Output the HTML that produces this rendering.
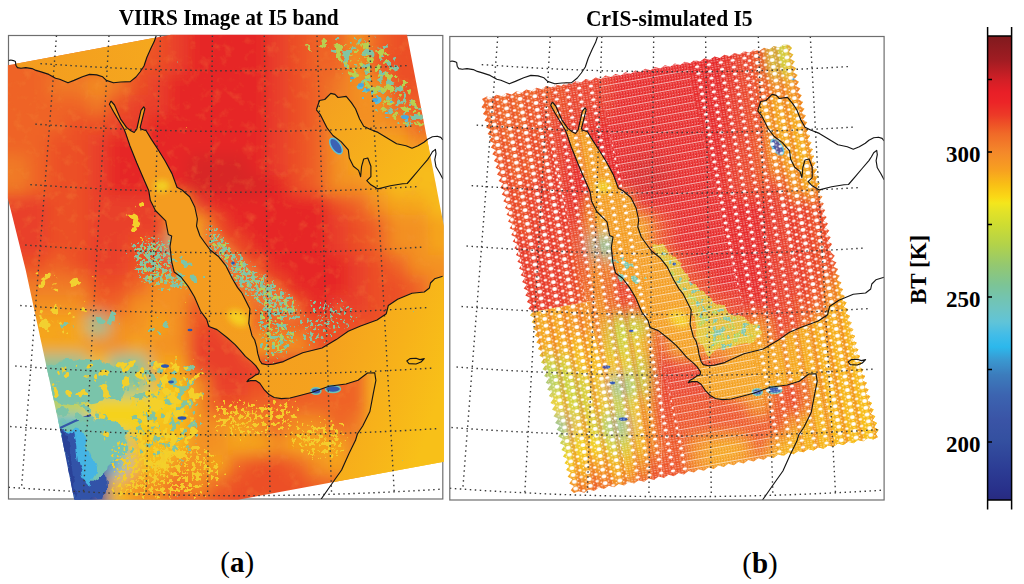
<!DOCTYPE html><html><head><meta charset="utf-8"><style>html,body{margin:0;padding:0;background:#fff;width:1024px;height:584px;overflow:hidden}svg{display:block}text{font-family:"Liberation Serif",serif}</style></head><body>
<svg width="1024" height="584" viewBox="0 0 1024 584">
<defs>
<clipPath id="cimg"><polygon points="7.9,65.2 171.0,34.8 407.0,34.8 443.8,225.7 443.8,461.7 238.0,499.8 74.2,499.8 62.3,440.0 25.7,270.0 7.9,198.5"/></clipPath>
<clipPath id="csw"><polygon points="40.7,98.0 45.4,95.6 50.7,97.0 55.3,93.8 60.6,95.3 65.2,92.1 70.5,93.6 75.1,90.3 80.5,91.8 85.0,88.6 90.4,90.1 94.9,86.8 100.3,88.3 104.8,85.1 110.2,86.6 114.7,83.4 120.1,84.9 124.6,81.6 130.0,83.1 134.5,79.9 139.9,81.4 144.4,78.1 149.8,79.6 154.3,76.4 159.7,77.9 164.2,74.6 169.6,76.1 174.1,72.9 179.5,74.4 184.0,71.2 189.4,72.7 193.9,69.4 199.3,70.9 203.8,67.7 209.2,69.2 213.7,65.9 219.1,67.4 223.6,64.2 229.0,65.7 233.5,62.5 238.9,63.9 243.4,60.7 248.8,62.2 253.3,59.0 258.7,60.5 263.2,57.2 268.6,58.7 273.1,55.5 278.5,57.0 283.1,53.7 288.4,55.2 293.0,52.0 298.3,53.5 302.9,50.3 308.2,51.8 312.8,48.5 318.1,50.0 322.7,46.8 328.0,48.3 332.6,45.0 337.9,46.5 342.5,43.3 347.7,44.0 350.8,46.9 347.6,51.1 352.2,53.6 349.0,57.8 353.6,60.4 350.4,64.6 355.0,67.2 351.8,71.3 356.4,73.9 353.1,78.1 357.7,80.7 354.5,84.9 359.1,87.4 355.9,91.6 360.5,94.2 357.3,98.4 361.9,101.0 358.7,105.1 363.3,107.7 360.0,111.9 364.7,114.5 361.4,118.7 366.0,121.2 362.8,125.4 367.4,128.0 364.2,132.2 368.8,134.8 365.6,138.9 370.2,141.5 367.0,145.7 371.6,148.3 368.3,152.5 372.9,155.0 369.7,159.2 374.3,161.8 371.1,166.0 375.7,168.6 372.5,172.7 377.1,175.3 373.9,179.5 378.5,182.1 375.2,186.3 379.8,188.8 376.6,193.0 381.2,195.6 378.0,199.8 382.6,202.4 379.4,206.5 384.0,209.1 380.8,213.3 385.4,215.9 382.1,220.1 386.8,222.6 383.5,226.8 388.1,229.4 384.9,233.6 389.5,236.2 386.3,240.3 390.9,242.9 387.7,247.1 390.2,252.0 393.5,254.7 390.4,259.1 395.2,261.4 392.1,265.7 396.9,268.1 393.8,272.4 398.5,274.8 395.5,279.1 400.2,281.5 397.2,285.8 401.9,288.2 398.9,292.5 403.6,294.9 400.6,299.2 405.3,301.6 402.3,305.9 407.0,308.2 404.0,312.6 408.7,314.9 405.7,319.3 410.4,321.6 407.3,326.0 412.1,328.3 409.0,332.6 413.8,335.0 410.7,339.3 415.4,341.7 412.4,346.0 417.1,348.4 414.1,352.7 418.8,355.1 415.8,359.4 420.5,361.8 417.5,366.1 422.2,368.5 419.2,372.8 423.9,375.1 420.9,379.5 425.6,381.8 422.6,386.2 427.3,388.5 424.2,392.9 429.0,395.2 425.9,399.5 430.7,401.9 427.6,406.2 432.4,408.6 429.3,412.9 434.0,415.3 431.0,419.6 435.7,422.0 432.7,426.3 437.4,428.7 434.4,433.0 436.7,436.0 432.0,438.5 426.6,437.0 422.0,440.3 416.6,438.9 412.1,442.2 406.7,440.7 402.1,444.0 396.7,442.6 392.1,445.8 386.7,444.4 382.2,447.7 376.8,446.2 372.2,449.5 366.8,448.1 362.2,451.3 356.8,449.9 352.3,453.2 346.9,451.7 342.3,455.0 336.9,453.6 332.3,456.9 326.9,455.4 322.4,458.7 316.9,457.2 312.4,460.5 307.0,459.1 302.4,462.4 297.0,460.9 292.5,464.2 287.0,462.8 282.5,466.0 277.1,464.6 272.5,467.9 267.1,466.4 262.6,469.7 257.1,468.3 252.6,471.5 247.2,470.1 242.6,473.4 237.2,471.9 232.7,475.2 227.2,473.8 222.7,477.0 217.3,475.6 212.7,478.9 207.3,477.4 202.8,480.7 197.3,479.3 192.8,482.6 187.4,481.1 182.8,484.4 177.4,483.0 172.9,486.2 167.4,484.8 162.9,488.1 157.5,486.6 152.9,489.9 147.5,488.5 143.0,491.7 137.5,490.3 132.7,492.0 129.5,489.2 132.6,484.9 127.9,482.5 131.0,478.2 126.3,475.8 129.5,471.5 124.8,469.1 127.9,464.8 123.2,462.3 126.3,458.1 121.6,455.6 124.7,451.3 120.1,448.9 123.2,444.6 118.5,442.2 121.6,437.9 116.9,435.5 120.0,431.2 115.4,428.7 118.5,424.5 113.8,422.0 116.9,417.7 112.2,415.3 115.3,411.0 110.7,408.6 113.8,404.3 109.1,401.9 112.2,397.6 107.5,395.1 110.6,390.9 105.9,388.4 109.1,384.2 104.4,381.7 107.5,377.4 102.8,375.0 105.9,370.7 101.2,368.3 104.4,364.0 99.7,361.5 102.8,357.3 98.1,354.8 101.2,350.6 96.5,348.1 99.6,343.8 95.0,341.4 98.1,337.1 93.4,334.7 96.5,330.4 91.8,327.9 94.9,323.7 90.3,321.2 93.4,317.0 88.7,314.5 91.8,310.2 87.1,307.8 90.2,303.5 85.6,301.1 88.7,296.8 84.0,294.4 87.1,290.1 82.4,287.6 85.5,283.4 80.8,280.9 84.0,276.6 79.3,274.2 82.4,269.9 77.7,267.5 80.8,263.2 76.1,260.8 79.2,256.5 74.6,254.0 77.7,249.8 73.0,247.3 76.1,243.0 71.4,240.6 74.5,236.3 69.9,233.9 73.0,229.6 68.3,227.2 71.4,222.9 66.7,220.4 69.8,216.2 65.2,213.7 68.3,209.5 63.6,207.0 66.7,202.7 62.0,200.3 65.1,196.0 60.4,193.6 63.6,189.3 58.9,186.8 62.0,182.6 57.3,180.1 60.4,175.9 55.7,173.4 58.9,169.1 54.2,166.7 57.3,162.4 52.6,160.0 55.7,155.7 51.0,153.2 54.1,149.0 49.5,146.5 52.6,142.3 47.9,139.8 51.0,135.5 46.3,133.1 49.4,128.8 44.8,126.4 47.9,122.1 43.2,119.6 46.3,115.4 41.6,112.9 44.7,108.7 40.1,106.2 43.2,101.9"/></clipPath>
<clipPath id="cfr"><rect x="8.5" y="35.5" width="434.3" height="463.5"/></clipPath>
<filter id="bl" x="-20%" y="-20%" width="140%" height="140%"><feGaussianBlur stdDeviation="8"/></filter>
<filter id="rough" filterUnits="userSpaceOnUse" x="0" y="0" width="1024" height="584"><feTurbulence type="fractalNoise" baseFrequency="0.07" numOctaves="3" seed="5" result="t"/><feDisplacementMap in="SourceGraphic" in2="t" scale="12" xChannelSelector="R" yChannelSelector="G" result="d"/><feGaussianBlur in="d" stdDeviation="0.7"/></filter>
<filter id="bl4" x="-50%" y="-50%" width="200%" height="200%"><feGaussianBlur stdDeviation="3"/></filter>
<filter id="bl3" x="-5%" y="-5%" width="110%" height="110%"><feGaussianBlur stdDeviation="0.6"/></filter>
<filter id="bl2" x="-5%" y="-5%" width="110%" height="110%"><feGaussianBlur stdDeviation="0.7"/></filter>
<filter id="nT" filterUnits="userSpaceOnUse" x="0" y="0" width="1024" height="584" color-interpolation-filters="sRGB"><feTurbulence type="fractalNoise" baseFrequency="0.12" numOctaves="3" seed="3" result="n"/><feColorMatrix in="n" type="matrix" values="0 0 0 0 0  0 0 0 0 0  0 0 0 0 0  1 0 0 0 0" result="na"/><feGaussianBlur in="SourceAlpha" stdDeviation="5" result="m"/><feComposite in="na" in2="m" operator="arithmetic" k1="0" k2="5" k3="2.0" k4="-4.500" result="t"/><feComponentTransfer in="t" result="t2"><feFuncA type="linear" slope="4" intercept="0"/></feComponentTransfer><feFlood flood-color="#7cc4a8"/><feComposite in2="t2" operator="in"/></filter><filter id="nTs" filterUnits="userSpaceOnUse" x="0" y="0" width="1024" height="584" color-interpolation-filters="sRGB"><feTurbulence type="fractalNoise" baseFrequency="0.14" numOctaves="3" seed="5" result="n"/><feColorMatrix in="n" type="matrix" values="0 0 0 0 0  0 0 0 0 0  0 0 0 0 0  1 0 0 0 0" result="na"/><feGaussianBlur in="SourceAlpha" stdDeviation="5" result="m"/><feComposite in="na" in2="m" operator="arithmetic" k1="0" k2="5" k3="2.0" k4="-4.788" result="t"/><feComponentTransfer in="t" result="t2"><feFuncA type="linear" slope="4" intercept="0"/></feComponentTransfer><feFlood flood-color="#80c4a4"/><feComposite in2="t2" operator="in"/></filter><filter id="nG" filterUnits="userSpaceOnUse" x="0" y="0" width="1024" height="584" color-interpolation-filters="sRGB"><feTurbulence type="fractalNoise" baseFrequency="0.14" numOctaves="3" seed="7" result="n"/><feColorMatrix in="n" type="matrix" values="0 0 0 0 0  0 0 0 0 0  0 0 0 0 0  1 0 0 0 0" result="na"/><feGaussianBlur in="SourceAlpha" stdDeviation="5" result="m"/><feComposite in="na" in2="m" operator="arithmetic" k1="0" k2="5" k3="2.0" k4="-4.788" result="t"/><feComponentTransfer in="t" result="t2"><feFuncA type="linear" slope="4" intercept="0"/></feComponentTransfer><feFlood flood-color="#b8d050"/><feComposite in2="t2" operator="in"/></filter><filter id="nY" filterUnits="userSpaceOnUse" x="0" y="0" width="1024" height="584" color-interpolation-filters="sRGB"><feTurbulence type="fractalNoise" baseFrequency="0.1" numOctaves="3" seed="9" result="n"/><feColorMatrix in="n" type="matrix" values="0 0 0 0 0  0 0 0 0 0  0 0 0 0 0  1 0 0 0 0" result="na"/><feGaussianBlur in="SourceAlpha" stdDeviation="6" result="m"/><feComposite in="na" in2="m" operator="arithmetic" k1="0" k2="5" k3="2.0" k4="-4.569" result="t"/><feComponentTransfer in="t" result="t2"><feFuncA type="linear" slope="4" intercept="0"/></feComponentTransfer><feFlood flood-color="#f4d02a"/><feComposite in2="t2" operator="in"/></filter><filter id="nC" filterUnits="userSpaceOnUse" x="0" y="0" width="1024" height="584" color-interpolation-filters="sRGB"><feTurbulence type="fractalNoise" baseFrequency="0.12" numOctaves="3" seed="11" result="n"/><feColorMatrix in="n" type="matrix" values="0 0 0 0 0  0 0 0 0 0  0 0 0 0 0  1 0 0 0 0" result="na"/><feGaussianBlur in="SourceAlpha" stdDeviation="5" result="m"/><feComposite in="na" in2="m" operator="arithmetic" k1="0" k2="5" k3="2.0" k4="-4.712" result="t"/><feComponentTransfer in="t" result="t2"><feFuncA type="linear" slope="4" intercept="0"/></feComponentTransfer><feFlood flood-color="#5cbcd4"/><feComposite in2="t2" operator="in"/></filter><filter id="nTf" filterUnits="userSpaceOnUse" x="0" y="0" width="1024" height="584" color-interpolation-filters="sRGB"><feTurbulence type="fractalNoise" baseFrequency="0.25" numOctaves="2" seed="13" result="n"/><feColorMatrix in="n" type="matrix" values="0 0 0 0 0  0 0 0 0 0  0 0 0 0 0  1 0 0 0 0" result="na"/><feGaussianBlur in="SourceAlpha" stdDeviation="5" result="m"/><feComposite in="na" in2="m" operator="arithmetic" k1="0" k2="5" k3="2.0" k4="-4.569" result="t"/><feComponentTransfer in="t" result="t2"><feFuncA type="linear" slope="4" intercept="0"/></feComponentTransfer><feFlood flood-color="#7cc4a8"/><feComposite in2="t2" operator="in"/></filter><filter id="nGf" filterUnits="userSpaceOnUse" x="0" y="0" width="1024" height="584" color-interpolation-filters="sRGB"><feTurbulence type="fractalNoise" baseFrequency="0.25" numOctaves="2" seed="15" result="n"/><feColorMatrix in="n" type="matrix" values="0 0 0 0 0  0 0 0 0 0  0 0 0 0 0  1 0 0 0 0" result="na"/><feGaussianBlur in="SourceAlpha" stdDeviation="5" result="m"/><feComposite in="na" in2="m" operator="arithmetic" k1="0" k2="5" k3="2.0" k4="-4.871" result="t"/><feComponentTransfer in="t" result="t2"><feFuncA type="linear" slope="4" intercept="0"/></feComponentTransfer><feFlood flood-color="#b4d058"/><feComposite in2="t2" operator="in"/></filter><filter id="nYf" filterUnits="userSpaceOnUse" x="0" y="0" width="1024" height="584" color-interpolation-filters="sRGB"><feTurbulence type="fractalNoise" baseFrequency="0.26" numOctaves="3" seed="17" result="n"/><feColorMatrix in="n" type="matrix" values="0 0 0 0 0  0 0 0 0 0  0 0 0 0 0  1 0 0 0 0" result="na"/><feGaussianBlur in="SourceAlpha" stdDeviation="6" result="m"/><feComposite in="na" in2="m" operator="arithmetic" k1="0" k2="5" k3="2.0" k4="-4.611" result="t"/><feComponentTransfer in="t" result="t2"><feFuncA type="linear" slope="4" intercept="0"/></feComponentTransfer><feFlood flood-color="#f4cc2c"/><feComposite in2="t2" operator="in"/></filter><filter id="nTf3" filterUnits="userSpaceOnUse" x="0" y="0" width="1024" height="584" color-interpolation-filters="sRGB"><feTurbulence type="fractalNoise" baseFrequency="0.3" numOctaves="2" seed="29" result="n"/><feColorMatrix in="n" type="matrix" values="0 0 0 0 0  0 0 0 0 0  0 0 0 0 0  1 0 0 0 0" result="na"/><feGaussianBlur in="SourceAlpha" stdDeviation="5" result="m"/><feComposite in="na" in2="m" operator="arithmetic" k1="0" k2="5" k3="2.0" k4="-4.821" result="t"/><feComponentTransfer in="t" result="t2"><feFuncA type="linear" slope="4" intercept="0"/></feComponentTransfer><feFlood flood-color="#82c4a4"/><feComposite in2="t2" operator="in"/></filter><filter id="nYs" filterUnits="userSpaceOnUse" x="0" y="0" width="1024" height="584" color-interpolation-filters="sRGB"><feTurbulence type="fractalNoise" baseFrequency="0.1" numOctaves="3" seed="19" result="n"/><feColorMatrix in="n" type="matrix" values="0 0 0 0 0  0 0 0 0 0  0 0 0 0 0  1 0 0 0 0" result="na"/><feGaussianBlur in="SourceAlpha" stdDeviation="4" result="m"/><feComposite in="na" in2="m" operator="arithmetic" k1="0" k2="5" k3="2.0" k4="-4.925" result="t"/><feComponentTransfer in="t" result="t2"><feFuncA type="linear" slope="4" intercept="0"/></feComponentTransfer><feFlood flood-color="#f2d030"/><feComposite in2="t2" operator="in"/></filter><filter id="nTf2" filterUnits="userSpaceOnUse" x="0" y="0" width="1024" height="584" color-interpolation-filters="sRGB"><feTurbulence type="fractalNoise" baseFrequency="0.35" numOctaves="2" seed="23" result="n"/><feColorMatrix in="n" type="matrix" values="0 0 0 0 0  0 0 0 0 0  0 0 0 0 0  1 0 0 0 0" result="na"/><feGaussianBlur in="SourceAlpha" stdDeviation="5" result="m"/><feComposite in="na" in2="m" operator="arithmetic" k1="0" k2="5" k3="2.0" k4="-4.788" result="t"/><feComponentTransfer in="t" result="t2"><feFuncA type="linear" slope="4" intercept="0"/></feComponentTransfer><feFlood flood-color="#8cc4a0"/><feComposite in2="t2" operator="in"/></filter>
<filter id="mot" filterUnits="userSpaceOnUse" x="0" y="0" width="1024" height="584" color-interpolation-filters="sRGB"><feTurbulence type="fractalNoise" baseFrequency="0.09" numOctaves="4" seed="21" result="n"/><feColorMatrix in="n" type="matrix" values="0 0 0 0 0.97  0 0 0 0 0.62  0 0 0 0 0.25  2.2 0 0 0 -1.15"/><feComposite in2="SourceAlpha" operator="in"/></filter>
<g id="colors"><g filter="url(#bl)"><rect x="-12" y="15" width="40" height="40" fill="#ef6428"/><rect x="28" y="15" width="20" height="40" fill="#ef6428"/><rect x="48" y="15" width="20" height="40" fill="#ef6428"/><rect x="68" y="15" width="20" height="40" fill="#ef6428"/><rect x="88" y="15" width="20" height="40" fill="#ef6428"/><rect x="108" y="15" width="20" height="40" fill="#ef6428"/><rect x="128" y="15" width="20" height="40" fill="#ef6428"/><rect x="148" y="15" width="20" height="40" fill="#ec5028"/><rect x="168" y="15" width="20" height="40" fill="#e9402a"/><rect x="188" y="15" width="20" height="40" fill="#e62525"/><rect x="208" y="15" width="20" height="40" fill="#e62525"/><rect x="228" y="15" width="20" height="40" fill="#e62525"/><rect x="248" y="15" width="20" height="40" fill="#e62525"/><rect x="268" y="15" width="20" height="40" fill="#e9402a"/><rect x="288" y="15" width="20" height="40" fill="#ec5028"/><rect x="308" y="15" width="20" height="40" fill="#ef6428"/><rect x="328" y="15" width="20" height="40" fill="#ef6428"/><rect x="348" y="15" width="20" height="40" fill="#f39024"/><rect x="368" y="15" width="20" height="40" fill="#ef6428"/><rect x="388" y="15" width="20" height="40" fill="#ec5028"/><rect x="408" y="15" width="20" height="40" fill="#ec5028"/><rect x="428" y="15" width="40" height="40" fill="#ec5028"/><rect x="-12" y="55" width="40" height="20" fill="#ef6428"/><rect x="28" y="55" width="20" height="20" fill="#ef6428"/><rect x="48" y="55" width="20" height="20" fill="#ef6428"/><rect x="68" y="55" width="20" height="20" fill="#ef6428"/><rect x="88" y="55" width="20" height="20" fill="#ef6428"/><rect x="108" y="55" width="20" height="20" fill="#ef6428"/><rect x="128" y="55" width="20" height="20" fill="#ec5028"/><rect x="148" y="55" width="20" height="20" fill="#ec5028"/><rect x="168" y="55" width="20" height="20" fill="#e9402a"/><rect x="188" y="55" width="20" height="20" fill="#e62525"/><rect x="208" y="55" width="20" height="20" fill="#e62525"/><rect x="228" y="55" width="20" height="20" fill="#e62525"/><rect x="248" y="55" width="20" height="20" fill="#e62525"/><rect x="268" y="55" width="20" height="20" fill="#e9402a"/><rect x="288" y="55" width="20" height="20" fill="#ec5028"/><rect x="308" y="55" width="20" height="20" fill="#ef6428"/><rect x="328" y="55" width="20" height="20" fill="#ef6428"/><rect x="348" y="55" width="20" height="20" fill="#f39024"/><rect x="368" y="55" width="20" height="20" fill="#ec5028"/><rect x="388" y="55" width="20" height="20" fill="#ec5028"/><rect x="408" y="55" width="20" height="20" fill="#ec5028"/><rect x="428" y="55" width="40" height="20" fill="#ec5028"/><rect x="-12" y="75" width="40" height="20" fill="#ef6428"/><rect x="28" y="75" width="20" height="20" fill="#ef6428"/><rect x="48" y="75" width="20" height="20" fill="#f07a28"/><rect x="68" y="75" width="20" height="20" fill="#f07a28"/><rect x="88" y="75" width="20" height="20" fill="#f39024"/><rect x="108" y="75" width="20" height="20" fill="#f07a28"/><rect x="128" y="75" width="20" height="20" fill="#ec5028"/><rect x="148" y="75" width="20" height="20" fill="#e9402a"/><rect x="168" y="75" width="20" height="20" fill="#e62525"/><rect x="188" y="75" width="20" height="20" fill="#e62525"/><rect x="208" y="75" width="20" height="20" fill="#e62525"/><rect x="228" y="75" width="20" height="20" fill="#e62525"/><rect x="248" y="75" width="20" height="20" fill="#e62525"/><rect x="268" y="75" width="20" height="20" fill="#e9402a"/><rect x="288" y="75" width="20" height="20" fill="#ec5028"/><rect x="308" y="75" width="20" height="20" fill="#ef6428"/><rect x="328" y="75" width="20" height="20" fill="#f07a28"/><rect x="348" y="75" width="20" height="20" fill="#f39024"/><rect x="368" y="75" width="20" height="20" fill="#f39024"/><rect x="388" y="75" width="20" height="20" fill="#ec5028"/><rect x="408" y="75" width="20" height="20" fill="#ec5028"/><rect x="428" y="75" width="40" height="20" fill="#ec5028"/><rect x="-12" y="95" width="40" height="20" fill="#ef6428"/><rect x="28" y="95" width="20" height="20" fill="#ef6428"/><rect x="48" y="95" width="20" height="20" fill="#ef6428"/><rect x="68" y="95" width="20" height="20" fill="#ef6428"/><rect x="88" y="95" width="20" height="20" fill="#f07a28"/><rect x="108" y="95" width="20" height="20" fill="#ec5028"/><rect x="128" y="95" width="20" height="20" fill="#e9402a"/><rect x="148" y="95" width="20" height="20" fill="#e9402a"/><rect x="168" y="95" width="20" height="20" fill="#e62525"/><rect x="188" y="95" width="20" height="20" fill="#e62525"/><rect x="208" y="95" width="20" height="20" fill="#e62525"/><rect x="228" y="95" width="20" height="20" fill="#e62525"/><rect x="248" y="95" width="20" height="20" fill="#e62525"/><rect x="268" y="95" width="20" height="20" fill="#e9402a"/><rect x="288" y="95" width="20" height="20" fill="#ec5028"/><rect x="308" y="95" width="20" height="20" fill="#ef6428"/><rect x="328" y="95" width="20" height="20" fill="#f07a28"/><rect x="348" y="95" width="20" height="20" fill="#f39024"/><rect x="368" y="95" width="20" height="20" fill="#f39024"/><rect x="388" y="95" width="20" height="20" fill="#ef6428"/><rect x="408" y="95" width="20" height="20" fill="#ef6428"/><rect x="428" y="95" width="40" height="20" fill="#ef6428"/><rect x="-12" y="115" width="40" height="20" fill="#ef6428"/><rect x="28" y="115" width="20" height="20" fill="#ef6428"/><rect x="48" y="115" width="20" height="20" fill="#ef6428"/><rect x="68" y="115" width="20" height="20" fill="#ec5028"/><rect x="88" y="115" width="20" height="20" fill="#ec5028"/><rect x="108" y="115" width="20" height="20" fill="#e9402a"/><rect x="128" y="115" width="20" height="20" fill="#e9402a"/><rect x="148" y="115" width="20" height="20" fill="#e62525"/><rect x="168" y="115" width="20" height="20" fill="#e62525"/><rect x="188" y="115" width="20" height="20" fill="#e62525"/><rect x="208" y="115" width="20" height="20" fill="#e62525"/><rect x="228" y="115" width="20" height="20" fill="#e62525"/><rect x="248" y="115" width="20" height="20" fill="#e62525"/><rect x="268" y="115" width="20" height="20" fill="#e9402a"/><rect x="288" y="115" width="20" height="20" fill="#ec5028"/><rect x="308" y="115" width="20" height="20" fill="#ef6428"/><rect x="328" y="115" width="20" height="20" fill="#f39024"/><rect x="348" y="115" width="20" height="20" fill="#f39024"/><rect x="368" y="115" width="20" height="20" fill="#f39024"/><rect x="388" y="115" width="20" height="20" fill="#f39024"/><rect x="408" y="115" width="20" height="20" fill="#ef6428"/><rect x="428" y="115" width="40" height="20" fill="#ef6428"/><rect x="-12" y="135" width="40" height="20" fill="#ef6428"/><rect x="28" y="135" width="20" height="20" fill="#ef6428"/><rect x="48" y="135" width="20" height="20" fill="#ec5028"/><rect x="68" y="135" width="20" height="20" fill="#ec5028"/><rect x="88" y="135" width="20" height="20" fill="#e9402a"/><rect x="108" y="135" width="20" height="20" fill="#e62525"/><rect x="128" y="135" width="20" height="20" fill="#e62525"/><rect x="148" y="135" width="20" height="20" fill="#e62525"/><rect x="168" y="135" width="20" height="20" fill="#e62525"/><rect x="188" y="135" width="20" height="20" fill="#e62525"/><rect x="208" y="135" width="20" height="20" fill="#e62525"/><rect x="228" y="135" width="20" height="20" fill="#e62525"/><rect x="248" y="135" width="20" height="20" fill="#e62525"/><rect x="268" y="135" width="20" height="20" fill="#e9402a"/><rect x="288" y="135" width="20" height="20" fill="#ec5028"/><rect x="308" y="135" width="20" height="20" fill="#ef6428"/><rect x="328" y="135" width="20" height="20" fill="#f39024"/><rect x="348" y="135" width="20" height="20" fill="#f5a51f"/><rect x="368" y="135" width="20" height="20" fill="#f5a51f"/><rect x="388" y="135" width="20" height="20" fill="#f5a51f"/><rect x="408" y="135" width="20" height="20" fill="#f39024"/><rect x="428" y="135" width="40" height="20" fill="#f39024"/><rect x="-12" y="155" width="40" height="20" fill="#f07a28"/><rect x="28" y="155" width="20" height="20" fill="#ef6428"/><rect x="48" y="155" width="20" height="20" fill="#ec5028"/><rect x="68" y="155" width="20" height="20" fill="#ec5028"/><rect x="88" y="155" width="20" height="20" fill="#e9402a"/><rect x="108" y="155" width="20" height="20" fill="#e62525"/><rect x="128" y="155" width="20" height="20" fill="#e62525"/><rect x="148" y="155" width="20" height="20" fill="#e62525"/><rect x="168" y="155" width="20" height="20" fill="#e62525"/><rect x="188" y="155" width="20" height="20" fill="#d82828"/><rect x="208" y="155" width="20" height="20" fill="#d82828"/><rect x="228" y="155" width="20" height="20" fill="#d82828"/><rect x="248" y="155" width="20" height="20" fill="#e62525"/><rect x="268" y="155" width="20" height="20" fill="#e9402a"/><rect x="288" y="155" width="20" height="20" fill="#ec5028"/><rect x="308" y="155" width="20" height="20" fill="#ef6428"/><rect x="328" y="155" width="20" height="20" fill="#f39024"/><rect x="348" y="155" width="20" height="20" fill="#f5a51f"/><rect x="368" y="155" width="20" height="20" fill="#f5a51f"/><rect x="388" y="155" width="20" height="20" fill="#f5a51f"/><rect x="408" y="155" width="20" height="20" fill="#f7bc1a"/><rect x="428" y="155" width="40" height="20" fill="#f7bc1a"/><rect x="-12" y="175" width="40" height="20" fill="#f07a28"/><rect x="28" y="175" width="20" height="20" fill="#ef6428"/><rect x="48" y="175" width="20" height="20" fill="#ec5028"/><rect x="68" y="175" width="20" height="20" fill="#ec5028"/><rect x="88" y="175" width="20" height="20" fill="#e9402a"/><rect x="108" y="175" width="20" height="20" fill="#e62525"/><rect x="128" y="175" width="20" height="20" fill="#e62525"/><rect x="148" y="175" width="20" height="20" fill="#e62525"/><rect x="168" y="175" width="20" height="20" fill="#e62525"/><rect x="188" y="175" width="20" height="20" fill="#d82828"/><rect x="208" y="175" width="20" height="20" fill="#d82828"/><rect x="228" y="175" width="20" height="20" fill="#d82828"/><rect x="248" y="175" width="20" height="20" fill="#d82828"/><rect x="268" y="175" width="20" height="20" fill="#e62525"/><rect x="288" y="175" width="20" height="20" fill="#ec5028"/><rect x="308" y="175" width="20" height="20" fill="#ef6428"/><rect x="328" y="175" width="20" height="20" fill="#f39024"/><rect x="348" y="175" width="20" height="20" fill="#f39024"/><rect x="368" y="175" width="20" height="20" fill="#f5a51f"/><rect x="388" y="175" width="20" height="20" fill="#f7bc1a"/><rect x="408" y="175" width="20" height="20" fill="#f7bc1a"/><rect x="428" y="175" width="40" height="20" fill="#f7bc1a"/><rect x="-12" y="195" width="40" height="20" fill="#e9402a"/><rect x="28" y="195" width="20" height="20" fill="#e9402a"/><rect x="48" y="195" width="20" height="20" fill="#ec5028"/><rect x="68" y="195" width="20" height="20" fill="#ec5028"/><rect x="88" y="195" width="20" height="20" fill="#e9402a"/><rect x="108" y="195" width="20" height="20" fill="#e9402a"/><rect x="128" y="195" width="20" height="20" fill="#e9402a"/><rect x="148" y="195" width="20" height="20" fill="#e9402a"/><rect x="168" y="195" width="20" height="20" fill="#f5a51f"/><rect x="188" y="195" width="20" height="20" fill="#e9402a"/><rect x="208" y="195" width="20" height="20" fill="#e62525"/><rect x="228" y="195" width="20" height="20" fill="#e62525"/><rect x="248" y="195" width="20" height="20" fill="#e62525"/><rect x="268" y="195" width="20" height="20" fill="#e62525"/><rect x="288" y="195" width="20" height="20" fill="#e62525"/><rect x="308" y="195" width="20" height="20" fill="#e62525"/><rect x="328" y="195" width="20" height="20" fill="#ec5028"/><rect x="348" y="195" width="20" height="20" fill="#ef6428"/><rect x="368" y="195" width="20" height="20" fill="#f39024"/><rect x="388" y="195" width="20" height="20" fill="#f5a51f"/><rect x="408" y="195" width="20" height="20" fill="#f5a51f"/><rect x="428" y="195" width="40" height="20" fill="#f7bc1a"/><rect x="-12" y="215" width="40" height="20" fill="#e9402a"/><rect x="28" y="215" width="20" height="20" fill="#e9402a"/><rect x="48" y="215" width="20" height="20" fill="#ec5028"/><rect x="68" y="215" width="20" height="20" fill="#ec5028"/><rect x="88" y="215" width="20" height="20" fill="#e9402a"/><rect x="108" y="215" width="20" height="20" fill="#e9402a"/><rect x="128" y="215" width="20" height="20" fill="#e9402a"/><rect x="148" y="215" width="20" height="20" fill="#e9402a"/><rect x="168" y="215" width="20" height="20" fill="#f5a51f"/><rect x="188" y="215" width="20" height="20" fill="#f5a51f"/><rect x="208" y="215" width="20" height="20" fill="#ec5028"/><rect x="228" y="215" width="20" height="20" fill="#e62525"/><rect x="248" y="215" width="20" height="20" fill="#e62525"/><rect x="268" y="215" width="20" height="20" fill="#e62525"/><rect x="288" y="215" width="20" height="20" fill="#e62525"/><rect x="308" y="215" width="20" height="20" fill="#e62525"/><rect x="328" y="215" width="20" height="20" fill="#e9402a"/><rect x="348" y="215" width="20" height="20" fill="#ec5028"/><rect x="368" y="215" width="20" height="20" fill="#ef6428"/><rect x="388" y="215" width="20" height="20" fill="#f39024"/><rect x="408" y="215" width="20" height="20" fill="#f39024"/><rect x="428" y="215" width="40" height="20" fill="#f5a51f"/><rect x="-12" y="235" width="40" height="20" fill="#e9402a"/><rect x="28" y="235" width="20" height="20" fill="#e9402a"/><rect x="48" y="235" width="20" height="20" fill="#ec5028"/><rect x="68" y="235" width="20" height="20" fill="#ec5028"/><rect x="88" y="235" width="20" height="20" fill="#e9402a"/><rect x="108" y="235" width="20" height="20" fill="#e9402a"/><rect x="128" y="235" width="20" height="20" fill="#ec5028"/><rect x="148" y="235" width="20" height="20" fill="#ec5028"/><rect x="168" y="235" width="20" height="20" fill="#86c49c"/><rect x="188" y="235" width="20" height="20" fill="#f5a51f"/><rect x="208" y="235" width="20" height="20" fill="#ec5028"/><rect x="228" y="235" width="20" height="20" fill="#ec5028"/><rect x="248" y="235" width="20" height="20" fill="#e62525"/><rect x="268" y="235" width="20" height="20" fill="#e62525"/><rect x="288" y="235" width="20" height="20" fill="#e62525"/><rect x="308" y="235" width="20" height="20" fill="#e62525"/><rect x="328" y="235" width="20" height="20" fill="#e9402a"/><rect x="348" y="235" width="20" height="20" fill="#ec5028"/><rect x="368" y="235" width="20" height="20" fill="#ef6428"/><rect x="388" y="235" width="20" height="20" fill="#f39024"/><rect x="408" y="235" width="20" height="20" fill="#f39024"/><rect x="428" y="235" width="40" height="20" fill="#f5a51f"/><rect x="-12" y="255" width="40" height="20" fill="#ec5028"/><rect x="28" y="255" width="20" height="20" fill="#ec5028"/><rect x="48" y="255" width="20" height="20" fill="#ef6428"/><rect x="68" y="255" width="20" height="20" fill="#ec5028"/><rect x="88" y="255" width="20" height="20" fill="#e9402a"/><rect x="108" y="255" width="20" height="20" fill="#e9402a"/><rect x="128" y="255" width="20" height="20" fill="#ec5028"/><rect x="148" y="255" width="20" height="20" fill="#ec5028"/><rect x="168" y="255" width="20" height="20" fill="#e9402a"/><rect x="188" y="255" width="20" height="20" fill="#f5a51f"/><rect x="208" y="255" width="20" height="20" fill="#ef6428"/><rect x="228" y="255" width="20" height="20" fill="#ec5028"/><rect x="248" y="255" width="20" height="20" fill="#ec5028"/><rect x="268" y="255" width="20" height="20" fill="#e62525"/><rect x="288" y="255" width="20" height="20" fill="#e62525"/><rect x="308" y="255" width="20" height="20" fill="#e62525"/><rect x="328" y="255" width="20" height="20" fill="#e62525"/><rect x="348" y="255" width="20" height="20" fill="#e9402a"/><rect x="368" y="255" width="20" height="20" fill="#ec5028"/><rect x="388" y="255" width="20" height="20" fill="#ef6428"/><rect x="408" y="255" width="20" height="20" fill="#f39024"/><rect x="428" y="255" width="40" height="20" fill="#f39024"/><rect x="-12" y="275" width="40" height="20" fill="#f07a28"/><rect x="28" y="275" width="20" height="20" fill="#f07a28"/><rect x="48" y="275" width="20" height="20" fill="#f07a28"/><rect x="68" y="275" width="20" height="20" fill="#f07a28"/><rect x="88" y="275" width="20" height="20" fill="#ec5028"/><rect x="108" y="275" width="20" height="20" fill="#ec5028"/><rect x="128" y="275" width="20" height="20" fill="#ef6428"/><rect x="148" y="275" width="20" height="20" fill="#f39024"/><rect x="168" y="275" width="20" height="20" fill="#f39024"/><rect x="188" y="275" width="20" height="20" fill="#f39024"/><rect x="208" y="275" width="20" height="20" fill="#f5a51f"/><rect x="228" y="275" width="20" height="20" fill="#ef6428"/><rect x="248" y="275" width="20" height="20" fill="#ec5028"/><rect x="268" y="275" width="20" height="20" fill="#ec5028"/><rect x="288" y="275" width="20" height="20" fill="#e62525"/><rect x="308" y="275" width="20" height="20" fill="#e62525"/><rect x="328" y="275" width="20" height="20" fill="#e62525"/><rect x="348" y="275" width="20" height="20" fill="#e9402a"/><rect x="368" y="275" width="20" height="20" fill="#ec5028"/><rect x="388" y="275" width="20" height="20" fill="#ec5028"/><rect x="408" y="275" width="20" height="20" fill="#ef6428"/><rect x="428" y="275" width="40" height="20" fill="#f39024"/><rect x="-12" y="295" width="40" height="20" fill="#f07a28"/><rect x="28" y="295" width="20" height="20" fill="#f39024"/><rect x="48" y="295" width="20" height="20" fill="#f39024"/><rect x="68" y="295" width="20" height="20" fill="#f39024"/><rect x="88" y="295" width="20" height="20" fill="#ef6428"/><rect x="108" y="295" width="20" height="20" fill="#ef6428"/><rect x="128" y="295" width="20" height="20" fill="#f39024"/><rect x="148" y="295" width="20" height="20" fill="#f39024"/><rect x="168" y="295" width="20" height="20" fill="#f39024"/><rect x="188" y="295" width="20" height="20" fill="#ec5028"/><rect x="208" y="295" width="20" height="20" fill="#f5a51f"/><rect x="228" y="295" width="20" height="20" fill="#f5a51f"/><rect x="248" y="295" width="20" height="20" fill="#ef6428"/><rect x="268" y="295" width="20" height="20" fill="#ec5028"/><rect x="288" y="295" width="20" height="20" fill="#ec5028"/><rect x="308" y="295" width="20" height="20" fill="#e62525"/><rect x="328" y="295" width="20" height="20" fill="#e9402a"/><rect x="348" y="295" width="20" height="20" fill="#e9402a"/><rect x="368" y="295" width="20" height="20" fill="#ec5028"/><rect x="388" y="295" width="20" height="20" fill="#ec5028"/><rect x="408" y="295" width="20" height="20" fill="#ef6428"/><rect x="428" y="295" width="40" height="20" fill="#f39024"/><rect x="-12" y="315" width="40" height="20" fill="#f39024"/><rect x="28" y="315" width="20" height="20" fill="#f5a51f"/><rect x="48" y="315" width="20" height="20" fill="#f5a51f"/><rect x="68" y="315" width="20" height="20" fill="#f5a51f"/><rect x="88" y="315" width="20" height="20" fill="#86c49c"/><rect x="108" y="315" width="20" height="20" fill="#f39024"/><rect x="128" y="315" width="20" height="20" fill="#f39024"/><rect x="148" y="315" width="20" height="20" fill="#f5a51f"/><rect x="168" y="315" width="20" height="20" fill="#f39024"/><rect x="188" y="315" width="20" height="20" fill="#ec5028"/><rect x="208" y="315" width="20" height="20" fill="#e9402a"/><rect x="228" y="315" width="20" height="20" fill="#f5a51f"/><rect x="248" y="315" width="20" height="20" fill="#ef6428"/><rect x="268" y="315" width="20" height="20" fill="#ef6428"/><rect x="288" y="315" width="20" height="20" fill="#ef6428"/><rect x="308" y="315" width="20" height="20" fill="#ec5028"/><rect x="328" y="315" width="20" height="20" fill="#ec5028"/><rect x="348" y="315" width="20" height="20" fill="#ec5028"/><rect x="368" y="315" width="20" height="20" fill="#ec5028"/><rect x="388" y="315" width="20" height="20" fill="#ef6428"/><rect x="408" y="315" width="20" height="20" fill="#f39024"/><rect x="428" y="315" width="40" height="20" fill="#f39024"/><rect x="-12" y="335" width="40" height="20" fill="#f5a51f"/><rect x="28" y="335" width="20" height="20" fill="#f5a51f"/><rect x="48" y="335" width="20" height="20" fill="#f5a51f"/><rect x="68" y="335" width="20" height="20" fill="#f5a51f"/><rect x="88" y="335" width="20" height="20" fill="#f39024"/><rect x="108" y="335" width="20" height="20" fill="#f39024"/><rect x="128" y="335" width="20" height="20" fill="#f5a51f"/><rect x="148" y="335" width="20" height="20" fill="#f39024"/><rect x="168" y="335" width="20" height="20" fill="#f39024"/><rect x="188" y="335" width="20" height="20" fill="#e9402a"/><rect x="208" y="335" width="20" height="20" fill="#e9402a"/><rect x="228" y="335" width="20" height="20" fill="#e9402a"/><rect x="248" y="335" width="20" height="20" fill="#f5a51f"/><rect x="268" y="335" width="20" height="20" fill="#f39024"/><rect x="288" y="335" width="20" height="20" fill="#f39024"/><rect x="308" y="335" width="20" height="20" fill="#ec5028"/><rect x="328" y="335" width="20" height="20" fill="#ec5028"/><rect x="348" y="335" width="20" height="20" fill="#ef6428"/><rect x="368" y="335" width="20" height="20" fill="#f39024"/><rect x="388" y="335" width="20" height="20" fill="#f39024"/><rect x="408" y="335" width="20" height="20" fill="#f39024"/><rect x="428" y="335" width="40" height="20" fill="#f39024"/><rect x="-12" y="355" width="40" height="20" fill="#86c49c"/><rect x="28" y="355" width="20" height="20" fill="#86c49c"/><rect x="48" y="355" width="20" height="20" fill="#86c49c"/><rect x="68" y="355" width="20" height="20" fill="#86c49c"/><rect x="88" y="355" width="20" height="20" fill="#f7bc1a"/><rect x="108" y="355" width="20" height="20" fill="#86c49c"/><rect x="128" y="355" width="20" height="20" fill="#86c49c"/><rect x="148" y="355" width="20" height="20" fill="#f5a51f"/><rect x="168" y="355" width="20" height="20" fill="#f5a51f"/><rect x="188" y="355" width="20" height="20" fill="#e9402a"/><rect x="208" y="355" width="20" height="20" fill="#e9402a"/><rect x="228" y="355" width="20" height="20" fill="#e9402a"/><rect x="248" y="355" width="20" height="20" fill="#e9402a"/><rect x="268" y="355" width="20" height="20" fill="#e9402a"/><rect x="288" y="355" width="20" height="20" fill="#e9402a"/><rect x="308" y="355" width="20" height="20" fill="#f39024"/><rect x="328" y="355" width="20" height="20" fill="#ef6428"/><rect x="348" y="355" width="20" height="20" fill="#ef6428"/><rect x="368" y="355" width="20" height="20" fill="#f7bc1a"/><rect x="388" y="355" width="20" height="20" fill="#f7bc1a"/><rect x="408" y="355" width="20" height="20" fill="#f7bc1a"/><rect x="428" y="355" width="40" height="20" fill="#f7bc1a"/><rect x="-12" y="375" width="40" height="20" fill="#86c49c"/><rect x="28" y="375" width="20" height="20" fill="#86c49c"/><rect x="48" y="375" width="20" height="20" fill="#86c49c"/><rect x="68" y="375" width="20" height="20" fill="#86c49c"/><rect x="88" y="375" width="20" height="20" fill="#86c49c"/><rect x="108" y="375" width="20" height="20" fill="#86c49c"/><rect x="128" y="375" width="20" height="20" fill="#86c49c"/><rect x="148" y="375" width="20" height="20" fill="#f7bc1a"/><rect x="168" y="375" width="20" height="20" fill="#f7bc1a"/><rect x="188" y="375" width="20" height="20" fill="#f39024"/><rect x="208" y="375" width="20" height="20" fill="#e9402a"/><rect x="228" y="375" width="20" height="20" fill="#e9402a"/><rect x="248" y="375" width="20" height="20" fill="#ec5028"/><rect x="268" y="375" width="20" height="20" fill="#ec5028"/><rect x="288" y="375" width="20" height="20" fill="#ec5028"/><rect x="308" y="375" width="20" height="20" fill="#ef6428"/><rect x="328" y="375" width="20" height="20" fill="#ef6428"/><rect x="348" y="375" width="20" height="20" fill="#ef6428"/><rect x="368" y="375" width="20" height="20" fill="#f7bc1a"/><rect x="388" y="375" width="20" height="20" fill="#f7bc1a"/><rect x="408" y="375" width="20" height="20" fill="#f7bc1a"/><rect x="428" y="375" width="40" height="20" fill="#f7bc1a"/><rect x="-12" y="395" width="40" height="20" fill="#86c49c"/><rect x="28" y="395" width="20" height="20" fill="#86c49c"/><rect x="48" y="395" width="20" height="20" fill="#c8d440"/><rect x="68" y="395" width="20" height="20" fill="#c8d440"/><rect x="88" y="395" width="20" height="20" fill="#f5d21e"/><rect x="108" y="395" width="20" height="20" fill="#f5d21e"/><rect x="128" y="395" width="20" height="20" fill="#f5d21e"/><rect x="148" y="395" width="20" height="20" fill="#f5d21e"/><rect x="168" y="395" width="20" height="20" fill="#f5d21e"/><rect x="188" y="395" width="20" height="20" fill="#f39024"/><rect x="208" y="395" width="20" height="20" fill="#ec5028"/><rect x="228" y="395" width="20" height="20" fill="#ec5028"/><rect x="248" y="395" width="20" height="20" fill="#ef6428"/><rect x="268" y="395" width="20" height="20" fill="#ef6428"/><rect x="288" y="395" width="20" height="20" fill="#ef6428"/><rect x="308" y="395" width="20" height="20" fill="#ef6428"/><rect x="328" y="395" width="20" height="20" fill="#ef6428"/><rect x="348" y="395" width="20" height="20" fill="#ef6428"/><rect x="368" y="395" width="20" height="20" fill="#f7bc1a"/><rect x="388" y="395" width="20" height="20" fill="#f7bc1a"/><rect x="408" y="395" width="20" height="20" fill="#f7bc1a"/><rect x="428" y="395" width="40" height="20" fill="#f7bc1a"/><rect x="-12" y="415" width="40" height="20" fill="#50bcd8"/><rect x="28" y="415" width="20" height="20" fill="#50bcd8"/><rect x="48" y="415" width="20" height="20" fill="#50bcd8"/><rect x="68" y="415" width="20" height="20" fill="#50bcd8"/><rect x="88" y="415" width="20" height="20" fill="#f5d21e"/><rect x="108" y="415" width="20" height="20" fill="#f5d21e"/><rect x="128" y="415" width="20" height="20" fill="#f5d21e"/><rect x="148" y="415" width="20" height="20" fill="#f7bc1a"/><rect x="168" y="415" width="20" height="20" fill="#f7bc1a"/><rect x="188" y="415" width="20" height="20" fill="#f39024"/><rect x="208" y="415" width="20" height="20" fill="#f39024"/><rect x="228" y="415" width="20" height="20" fill="#f5a51f"/><rect x="248" y="415" width="20" height="20" fill="#f39024"/><rect x="268" y="415" width="20" height="20" fill="#ef6428"/><rect x="288" y="415" width="20" height="20" fill="#f39024"/><rect x="308" y="415" width="20" height="20" fill="#f39024"/><rect x="328" y="415" width="20" height="20" fill="#ef6428"/><rect x="348" y="415" width="20" height="20" fill="#f07a28"/><rect x="368" y="415" width="20" height="20" fill="#f7bc1a"/><rect x="388" y="415" width="20" height="20" fill="#f7bc1a"/><rect x="408" y="415" width="20" height="20" fill="#f7bc1a"/><rect x="428" y="415" width="40" height="20" fill="#f7bc1a"/><rect x="-12" y="435" width="40" height="20" fill="#2c48a0"/><rect x="28" y="435" width="20" height="20" fill="#2c48a0"/><rect x="48" y="435" width="20" height="20" fill="#2c48a0"/><rect x="68" y="435" width="20" height="20" fill="#2c48a0"/><rect x="88" y="435" width="20" height="20" fill="#86c49c"/><rect x="108" y="435" width="20" height="20" fill="#86c49c"/><rect x="128" y="435" width="20" height="20" fill="#f7bc1a"/><rect x="148" y="435" width="20" height="20" fill="#f7bc1a"/><rect x="168" y="435" width="20" height="20" fill="#f7bc1a"/><rect x="188" y="435" width="20" height="20" fill="#f39024"/><rect x="208" y="435" width="20" height="20" fill="#f39024"/><rect x="228" y="435" width="20" height="20" fill="#f5a51f"/><rect x="248" y="435" width="20" height="20" fill="#f5a51f"/><rect x="268" y="435" width="20" height="20" fill="#f39024"/><rect x="288" y="435" width="20" height="20" fill="#f5a51f"/><rect x="308" y="435" width="20" height="20" fill="#f5a51f"/><rect x="328" y="435" width="20" height="20" fill="#f5a51f"/><rect x="348" y="435" width="20" height="20" fill="#f07a28"/><rect x="368" y="435" width="20" height="20" fill="#f7bc1a"/><rect x="388" y="435" width="20" height="20" fill="#f7bc1a"/><rect x="408" y="435" width="20" height="20" fill="#f7bc1a"/><rect x="428" y="435" width="40" height="20" fill="#f7bc1a"/><rect x="-12" y="455" width="40" height="20" fill="#2c48a0"/><rect x="28" y="455" width="20" height="20" fill="#2c48a0"/><rect x="48" y="455" width="20" height="20" fill="#2c48a0"/><rect x="68" y="455" width="20" height="20" fill="#2c48a0"/><rect x="88" y="455" width="20" height="20" fill="#3a64b4"/><rect x="108" y="455" width="20" height="20" fill="#50bcd8"/><rect x="128" y="455" width="20" height="20" fill="#f7bc1a"/><rect x="148" y="455" width="20" height="20" fill="#f7bc1a"/><rect x="168" y="455" width="20" height="20" fill="#f39024"/><rect x="188" y="455" width="20" height="20" fill="#f39024"/><rect x="208" y="455" width="20" height="20" fill="#f5a51f"/><rect x="228" y="455" width="20" height="20" fill="#ef6428"/><rect x="248" y="455" width="20" height="20" fill="#ec5028"/><rect x="268" y="455" width="20" height="20" fill="#ec5028"/><rect x="288" y="455" width="20" height="20" fill="#ef6428"/><rect x="308" y="455" width="20" height="20" fill="#f39024"/><rect x="328" y="455" width="20" height="20" fill="#f5a51f"/><rect x="348" y="455" width="20" height="20" fill="#f39024"/><rect x="368" y="455" width="20" height="20" fill="#f7bc1a"/><rect x="388" y="455" width="20" height="20" fill="#f7bc1a"/><rect x="408" y="455" width="20" height="20" fill="#f7bc1a"/><rect x="428" y="455" width="40" height="20" fill="#f7bc1a"/><rect x="-12" y="475" width="40" height="20" fill="#2c48a0"/><rect x="28" y="475" width="20" height="20" fill="#2c48a0"/><rect x="48" y="475" width="20" height="20" fill="#2c48a0"/><rect x="68" y="475" width="20" height="20" fill="#2c48a0"/><rect x="88" y="475" width="20" height="20" fill="#2c48a0"/><rect x="108" y="475" width="20" height="20" fill="#f7bc1a"/><rect x="128" y="475" width="20" height="20" fill="#f39024"/><rect x="148" y="475" width="20" height="20" fill="#f39024"/><rect x="168" y="475" width="20" height="20" fill="#ef6428"/><rect x="188" y="475" width="20" height="20" fill="#f39024"/><rect x="208" y="475" width="20" height="20" fill="#ef6428"/><rect x="228" y="475" width="20" height="20" fill="#ec5028"/><rect x="248" y="475" width="20" height="20" fill="#ec5028"/><rect x="268" y="475" width="20" height="20" fill="#ec5028"/><rect x="288" y="475" width="20" height="20" fill="#ec5028"/><rect x="308" y="475" width="20" height="20" fill="#ef6428"/><rect x="328" y="475" width="20" height="20" fill="#ef6428"/><rect x="348" y="475" width="20" height="20" fill="#f39024"/><rect x="368" y="475" width="20" height="20" fill="#f7bc1a"/><rect x="388" y="475" width="20" height="20" fill="#f7bc1a"/><rect x="408" y="475" width="20" height="20" fill="#f7bc1a"/><rect x="428" y="475" width="40" height="20" fill="#f7bc1a"/><rect x="-12" y="495" width="40" height="40" fill="#2c48a0"/><rect x="28" y="495" width="20" height="40" fill="#2c48a0"/><rect x="48" y="495" width="20" height="40" fill="#2c48a0"/><rect x="68" y="495" width="20" height="40" fill="#2c48a0"/><rect x="88" y="495" width="20" height="40" fill="#2c48a0"/><rect x="108" y="495" width="20" height="40" fill="#f7bc1a"/><rect x="128" y="495" width="20" height="40" fill="#f39024"/><rect x="148" y="495" width="20" height="40" fill="#f39024"/><rect x="168" y="495" width="20" height="40" fill="#ef6428"/><rect x="188" y="495" width="20" height="40" fill="#ef6428"/><rect x="208" y="495" width="20" height="40" fill="#ec5028"/><rect x="228" y="495" width="20" height="40" fill="#ec5028"/><rect x="248" y="495" width="20" height="40" fill="#ec5028"/><rect x="268" y="495" width="20" height="40" fill="#ec5028"/><rect x="288" y="495" width="20" height="40" fill="#ec5028"/><rect x="308" y="495" width="20" height="40" fill="#ef6428"/><rect x="328" y="495" width="20" height="40" fill="#ef6428"/><rect x="348" y="495" width="20" height="40" fill="#f39024"/><rect x="368" y="495" width="20" height="40" fill="#f7bc1a"/><rect x="388" y="495" width="20" height="40" fill="#f7bc1a"/><rect x="408" y="495" width="20" height="40" fill="#f7bc1a"/><rect x="428" y="495" width="40" height="40" fill="#f7bc1a"/></g><polygon points="0,30 450,30 450,510 200,510 200,360 130,345 0,345" fill="#000" filter="url(#mot)" opacity="0.28"/><g filter="url(#rough)"><polygon points="46,364 70,360 100,362 122,370 128,388 118,398 95,402 70,404 52,400" fill="#7ac4aa"/><polygon points="58,422 95,418 118,424 130,432 124,452 108,466 102,499 74,499" fill="#74c4b4"/><polygon points="60,428 78,431 86,442 92,458 97,472 92,488 84,499 74,499" fill="#44b4e4"/><polygon points="60,428 74,433 77,446 79,462 83,476 90,487 99,481 107,474 108,488 104,499 74,499" fill="#3152a8"/><polygon points="60,430 68,434 70,450 72,470 76,490 74,499" fill="#2a4298"/></g><path d="M60,428 L75,421 L91,415" stroke="#3458a8" stroke-width="2.2" fill="none" filter="url(#bl2)"/><polygon points="46,364 70,360 100,362 122,370 128,388 118,398 95,402 70,404 52,400" filter="url(#nYs)"/><polygon points="95,418 118,424 130,432 124,452 108,466" filter="url(#nYs)"/><polygon points="132,240 160,236 178,244 172,262 180,275 200,270 205,285 190,292 160,290 140,282 130,262" filter="url(#nTf)"/><polygon points="132,240 160,236 178,244 172,262 180,275 200,270 205,285 190,292 160,290 140,282 130,262" filter="url(#nGf)"/><polygon points="132,240 160,236 178,244 172,262 180,275 200,270 205,285 190,292 160,290 140,282 130,262" filter="url(#nTf2)"/><polygon points="128,200 150,200 150,240 130,245" filter="url(#nY)"/><polygon points="203,222 214,226 228,240 242,254 258,268 275,282 295,298 305,318 288,324 268,314 252,302 238,290 226,276 214,258 205,240" fill="#ee7a34" opacity="0.75" filter="url(#bl4)"/><polygon points="203,222 214,226 228,240 242,254 258,268 275,282 295,298 305,318 288,324 268,314 252,302 238,290 226,276 214,258 205,240" filter="url(#nTf)"/><polygon points="203,222 214,226 228,240 242,254 258,268 275,282 295,298 305,318 288,324 268,314 252,302 238,290 226,276 214,258 205,240" filter="url(#nGf)"/><polygon points="203,222 214,226 228,240 242,254 258,268 275,282 295,298 305,318 288,324 268,314 252,302 238,290 226,276 214,258 205,240" filter="url(#nTf2)"/><polygon points="255,300 275,305 290,318 300,338 290,355 270,362 262,360 258,340 254,318" filter="url(#nTf)"/><polygon points="255,300 275,305 290,318 300,338 290,355 270,362 262,360 258,340 254,318" filter="url(#nGf)"/><polygon points="290,312 340,316 352,328 330,342 300,352 295,330" filter="url(#nTf3)"/><polygon points="300,295 350,298 362,328 320,335" filter="url(#nTf3)"/><polygon points="322,38 372,36 392,48 405,72 420,98 432,118 428,132 405,128 385,116 365,100 348,80 330,60" filter="url(#nTs)"/><polygon points="322,38 372,36 392,48 405,72 420,98 432,118 428,132 405,128 385,116 365,100 348,80 330,60" filter="url(#nG)"/><polygon points="345,70 400,100 420,120 400,125 360,100" filter="url(#nC)"/><polygon points="285,36 330,36 335,50 300,52" filter="url(#nG)"/><polygon points="45,402 95,402 120,410 110,425 70,425 50,420" filter="url(#nT)"/><polygon points="110,355 150,360 200,360 205,400 200,440 180,470 150,470 125,445 130,400" filter="url(#nTs)"/><polygon points="110,355 150,360 200,360 205,400 200,440 180,470 150,470 125,445 130,400" filter="url(#nY)"/><polygon points="85,312 120,312 122,328 88,330" filter="url(#nT)"/><polygon points="30,268 95,272 100,288 60,296 30,292" filter="url(#nYs)"/><polygon points="28,300 70,305 75,330 40,345 28,330" filter="url(#nYs)"/><polygon points="55,318 75,318 75,335 55,335" filter="url(#nTs)"/><polygon points="140,318 175,318 175,335 140,335" filter="url(#nTs)"/><polygon points="40,300 100,300 100,312 40,316" filter="url(#nY)"/><polygon points="300,420 345,420 350,450 330,465 300,455 280,440" filter="url(#nYf)"/><polygon points="210,400 300,398 300,430 240,440 210,430" filter="url(#nYf)"/><polygon points="110,440 200,440 230,470 200,500 110,500" filter="url(#nYf)"/><polygon points="8,61 11,60 13,61 15,62 16,65 17,68 21,68 26,68 32,69 36,70 41,72 49,74 56,78 60,79 68,83 74,80 82,77 90,74 97,75 103,77 106,80 114,83 121,82 130,82 136,77 140,72 144,66 147,57 151,48 154,42 156,36 160,30 0,30 0,61" fill="url(#gmed)"/><polygon points="111,101 114,105 120,119 126,127 131,131 134,132 137,129 141,110 144,107 145,109 140,127 141,129 146,131 151,139 158,150 165,161 172,174 177,187 182,190 190,197 195,207 197,219 196,226 200,236 205,243 210,250 219,257 226,265 232,279 238,288 242,293 250,309 249,323 252,336 255,340 257,347 258,353 260,360 262,364 267,365 273,364 279,363 283,362 288,360 303,353 322,348 336,340 348,331 361,326 377,320 386,314 388,306 398,299 412,293 424,292 429,288 430,283 435,279 443,276 450,276 450,510 321,510 321,499 332,483 342,470 349,453 356,440 357,434 363,426 366,420 370,412 374,392 376,380 375,373 368,373 358,380 346,384 329,386 312,392 298,396 290,398 281,399 274,398 269,394 264,389 260,383 256,381 250,381 247,382 248,380 252,378 256,375 259,374 259,371 256,366 252,362 245,356 240,350 235,345 227,338 217,330 209,326 207,319 200,311 194,297 188,286 181,277 174,272 172,262 170,246 172,236 168,234 166,221 155,210 150,200 149,191 143,177 137,163 130,146 126,133 124,129 119,120 114,112 109,104 111,101" fill="url(#gsea)"/><polygon points="316,110 320,100 325,100 331,93 335,94 338,98 346,96 351,103 356,109 360,119 364,126 370,129 378,132 386,138 397,144 406,146 412,148 418,146 424,142 428,139 435,149 432,152 430,156 428,160 420,168 414,175 407,184 403,184 390,186 378,189 371,185 367,181 371,177 371,166 368,158 364,159 362,166 361,177 359,170 353,166 349,158 348,150 341,142 333,136 327,127 320,115 316,110" fill="url(#ggulf)"/><g filter="url(#bl4)"><ellipse cx="162" cy="186" rx="8" ry="6" fill="#f2d024"/><ellipse cx="238" cy="318" rx="11" ry="7" transform="rotate(30 238 318)" fill="#f5d020"/></g><polygon points="168,250 192,252 204,272 196,286 176,284" filter="url(#nT)"/><g filter="url(#bl2)"><ellipse cx="336" cy="146" rx="4.5" ry="9" transform="rotate(-35 336 146)" fill="#3a62b4" stroke="#5cc0d8" stroke-width="1.5"/><ellipse cx="316" cy="391" rx="5" ry="3.2" fill="#3458b0" stroke="#6cc4b8" stroke-width="1.5"/><ellipse cx="333" cy="389" rx="7.5" ry="3.5" fill="#3458b0" stroke="#6cc4b8" stroke-width="1.5"/><ellipse cx="165" cy="366" rx="4" ry="1.8" fill="#2c54b4"/><ellipse cx="171" cy="382" rx="3" ry="1.4" fill="#2c54b4"/><ellipse cx="182" cy="418" rx="4.5" ry="1.8" fill="#2c54b4"/><ellipse cx="190" cy="330" rx="2.5" ry="1.3" fill="#2c54b4"/><ellipse cx="233" cy="263" rx="1.8" ry="1.5" fill="#2c54b4"/><ellipse cx="361" cy="85" rx="3" ry="2" fill="#48a8e0"/><ellipse cx="375" cy="100" rx="3" ry="2" fill="#48a8e0"/><ellipse cx="405" cy="117" rx="4" ry="2" fill="#48a8e0"/><ellipse cx="368" cy="90" rx="2" ry="1.5" fill="#48a8e0"/><ellipse cx="352" cy="78" rx="2" ry="1.3" fill="#48a8e0"/></g></g>
<clipPath id="cLow"><polygon points="0,327.8 220,287.1 220,520 0,520"/></clipPath>
<clipPath id="cUp"><polygon points="0,0 450,0 450,520 220,520 220,287.1 0,327.8"/></clipPath>
<g id="colorsR"><g clip-path="url(#cUp)"><g filter="url(#bl)"><rect x="-12" y="15" width="40" height="40" fill="#ef6428"/><rect x="28" y="15" width="20" height="40" fill="#ef6428"/><rect x="48" y="15" width="20" height="40" fill="#ef6428"/><rect x="68" y="15" width="20" height="40" fill="#ef6428"/><rect x="88" y="15" width="20" height="40" fill="#ef6428"/><rect x="108" y="15" width="20" height="40" fill="#ec5028"/><rect x="128" y="15" width="20" height="40" fill="#e9402a"/><rect x="148" y="15" width="20" height="40" fill="#e9402a"/><rect x="168" y="15" width="20" height="40" fill="#e62525"/><rect x="188" y="15" width="20" height="40" fill="#e62525"/><rect x="208" y="15" width="20" height="40" fill="#e62525"/><rect x="228" y="15" width="20" height="40" fill="#e62525"/><rect x="248" y="15" width="20" height="40" fill="#e62525"/><rect x="268" y="15" width="20" height="40" fill="#e62525"/><rect x="288" y="15" width="20" height="40" fill="#e9402a"/><rect x="308" y="15" width="20" height="40" fill="#ec5028"/><rect x="328" y="15" width="20" height="40" fill="#c8d440"/><rect x="348" y="15" width="20" height="40" fill="#f5a51f"/><rect x="368" y="15" width="20" height="40" fill="#ec5028"/><rect x="388" y="15" width="20" height="40" fill="#ec5028"/><rect x="408" y="15" width="20" height="40" fill="#ec5028"/><rect x="428" y="15" width="40" height="40" fill="#ec5028"/><rect x="-12" y="55" width="40" height="20" fill="#ef6428"/><rect x="28" y="55" width="20" height="20" fill="#ef6428"/><rect x="48" y="55" width="20" height="20" fill="#ef6428"/><rect x="68" y="55" width="20" height="20" fill="#ef6428"/><rect x="88" y="55" width="20" height="20" fill="#ef6428"/><rect x="108" y="55" width="20" height="20" fill="#ec5028"/><rect x="128" y="55" width="20" height="20" fill="#e9402a"/><rect x="148" y="55" width="20" height="20" fill="#e9402a"/><rect x="168" y="55" width="20" height="20" fill="#e62525"/><rect x="188" y="55" width="20" height="20" fill="#e62525"/><rect x="208" y="55" width="20" height="20" fill="#e62525"/><rect x="228" y="55" width="20" height="20" fill="#e62525"/><rect x="248" y="55" width="20" height="20" fill="#e62525"/><rect x="268" y="55" width="20" height="20" fill="#e62525"/><rect x="288" y="55" width="20" height="20" fill="#e9402a"/><rect x="308" y="55" width="20" height="20" fill="#ec5028"/><rect x="328" y="55" width="20" height="20" fill="#c8d440"/><rect x="348" y="55" width="20" height="20" fill="#f7bc1a"/><rect x="368" y="55" width="20" height="20" fill="#ec5028"/><rect x="388" y="55" width="20" height="20" fill="#ec5028"/><rect x="408" y="55" width="20" height="20" fill="#ec5028"/><rect x="428" y="55" width="40" height="20" fill="#ec5028"/><rect x="-12" y="75" width="40" height="20" fill="#ef6428"/><rect x="28" y="75" width="20" height="20" fill="#ef6428"/><rect x="48" y="75" width="20" height="20" fill="#ef6428"/><rect x="68" y="75" width="20" height="20" fill="#ef6428"/><rect x="88" y="75" width="20" height="20" fill="#ef6428"/><rect x="108" y="75" width="20" height="20" fill="#ec5028"/><rect x="128" y="75" width="20" height="20" fill="#e9402a"/><rect x="148" y="75" width="20" height="20" fill="#e9402a"/><rect x="168" y="75" width="20" height="20" fill="#e62525"/><rect x="188" y="75" width="20" height="20" fill="#e62525"/><rect x="208" y="75" width="20" height="20" fill="#e62525"/><rect x="228" y="75" width="20" height="20" fill="#e62525"/><rect x="248" y="75" width="20" height="20" fill="#e62525"/><rect x="268" y="75" width="20" height="20" fill="#e62525"/><rect x="288" y="75" width="20" height="20" fill="#e9402a"/><rect x="308" y="75" width="20" height="20" fill="#ec5028"/><rect x="328" y="75" width="20" height="20" fill="#f39024"/><rect x="348" y="75" width="20" height="20" fill="#f39024"/><rect x="368" y="75" width="20" height="20" fill="#ec5028"/><rect x="388" y="75" width="20" height="20" fill="#ec5028"/><rect x="408" y="75" width="20" height="20" fill="#ec5028"/><rect x="428" y="75" width="40" height="20" fill="#ec5028"/><rect x="-12" y="95" width="40" height="20" fill="#ef6428"/><rect x="28" y="95" width="20" height="20" fill="#ef6428"/><rect x="48" y="95" width="20" height="20" fill="#ef6428"/><rect x="68" y="95" width="20" height="20" fill="#ef6428"/><rect x="88" y="95" width="20" height="20" fill="#ec5028"/><rect x="108" y="95" width="20" height="20" fill="#ec5028"/><rect x="128" y="95" width="20" height="20" fill="#e9402a"/><rect x="148" y="95" width="20" height="20" fill="#e9402a"/><rect x="168" y="95" width="20" height="20" fill="#e62525"/><rect x="188" y="95" width="20" height="20" fill="#e62525"/><rect x="208" y="95" width="20" height="20" fill="#e62525"/><rect x="228" y="95" width="20" height="20" fill="#e62525"/><rect x="248" y="95" width="20" height="20" fill="#e62525"/><rect x="268" y="95" width="20" height="20" fill="#e62525"/><rect x="288" y="95" width="20" height="20" fill="#e9402a"/><rect x="308" y="95" width="20" height="20" fill="#ec5028"/><rect x="328" y="95" width="20" height="20" fill="#f39024"/><rect x="348" y="95" width="20" height="20" fill="#f5a51f"/><rect x="368" y="95" width="20" height="20" fill="#f39024"/><rect x="388" y="95" width="20" height="20" fill="#f39024"/><rect x="408" y="95" width="20" height="20" fill="#f39024"/><rect x="428" y="95" width="40" height="20" fill="#f39024"/><rect x="-12" y="115" width="40" height="20" fill="#ef6428"/><rect x="28" y="115" width="20" height="20" fill="#ef6428"/><rect x="48" y="115" width="20" height="20" fill="#ef6428"/><rect x="68" y="115" width="20" height="20" fill="#ef6428"/><rect x="88" y="115" width="20" height="20" fill="#ec5028"/><rect x="108" y="115" width="20" height="20" fill="#e9402a"/><rect x="128" y="115" width="20" height="20" fill="#e9402a"/><rect x="148" y="115" width="20" height="20" fill="#e62525"/><rect x="168" y="115" width="20" height="20" fill="#e62525"/><rect x="188" y="115" width="20" height="20" fill="#e62525"/><rect x="208" y="115" width="20" height="20" fill="#e62525"/><rect x="228" y="115" width="20" height="20" fill="#e62525"/><rect x="248" y="115" width="20" height="20" fill="#e62525"/><rect x="268" y="115" width="20" height="20" fill="#e62525"/><rect x="288" y="115" width="20" height="20" fill="#e9402a"/><rect x="308" y="115" width="20" height="20" fill="#ec5028"/><rect x="328" y="115" width="20" height="20" fill="#f5a51f"/><rect x="348" y="115" width="20" height="20" fill="#f5a51f"/><rect x="368" y="115" width="20" height="20" fill="#f5a51f"/><rect x="388" y="115" width="20" height="20" fill="#f5a51f"/><rect x="408" y="115" width="20" height="20" fill="#f5a51f"/><rect x="428" y="115" width="40" height="20" fill="#f5a51f"/><rect x="-12" y="135" width="40" height="20" fill="#ef6428"/><rect x="28" y="135" width="20" height="20" fill="#ef6428"/><rect x="48" y="135" width="20" height="20" fill="#ef6428"/><rect x="68" y="135" width="20" height="20" fill="#ec5028"/><rect x="88" y="135" width="20" height="20" fill="#ec5028"/><rect x="108" y="135" width="20" height="20" fill="#e9402a"/><rect x="128" y="135" width="20" height="20" fill="#e62525"/><rect x="148" y="135" width="20" height="20" fill="#e62525"/><rect x="168" y="135" width="20" height="20" fill="#e62525"/><rect x="188" y="135" width="20" height="20" fill="#e62525"/><rect x="208" y="135" width="20" height="20" fill="#e62525"/><rect x="228" y="135" width="20" height="20" fill="#e62525"/><rect x="248" y="135" width="20" height="20" fill="#e62525"/><rect x="268" y="135" width="20" height="20" fill="#e62525"/><rect x="288" y="135" width="20" height="20" fill="#e9402a"/><rect x="308" y="135" width="20" height="20" fill="#ec5028"/><rect x="328" y="135" width="20" height="20" fill="#f5a51f"/><rect x="348" y="135" width="20" height="20" fill="#f5a51f"/><rect x="368" y="135" width="20" height="20" fill="#f5a51f"/><rect x="388" y="135" width="20" height="20" fill="#f5a51f"/><rect x="408" y="135" width="20" height="20" fill="#f5a51f"/><rect x="428" y="135" width="40" height="20" fill="#f5a51f"/><rect x="-12" y="155" width="40" height="20" fill="#ef6428"/><rect x="28" y="155" width="20" height="20" fill="#ef6428"/><rect x="48" y="155" width="20" height="20" fill="#ec5028"/><rect x="68" y="155" width="20" height="20" fill="#ef6428"/><rect x="88" y="155" width="20" height="20" fill="#ec5028"/><rect x="108" y="155" width="20" height="20" fill="#e9402a"/><rect x="128" y="155" width="20" height="20" fill="#e62525"/><rect x="148" y="155" width="20" height="20" fill="#e62525"/><rect x="168" y="155" width="20" height="20" fill="#e62525"/><rect x="188" y="155" width="20" height="20" fill="#d82828"/><rect x="208" y="155" width="20" height="20" fill="#d82828"/><rect x="228" y="155" width="20" height="20" fill="#e62525"/><rect x="248" y="155" width="20" height="20" fill="#e62525"/><rect x="268" y="155" width="20" height="20" fill="#e62525"/><rect x="288" y="155" width="20" height="20" fill="#e9402a"/><rect x="308" y="155" width="20" height="20" fill="#ec5028"/><rect x="328" y="155" width="20" height="20" fill="#f39024"/><rect x="348" y="155" width="20" height="20" fill="#f5a51f"/><rect x="368" y="155" width="20" height="20" fill="#f5a51f"/><rect x="388" y="155" width="20" height="20" fill="#f5a51f"/><rect x="408" y="155" width="20" height="20" fill="#f5a51f"/><rect x="428" y="155" width="40" height="20" fill="#f5a51f"/><rect x="-12" y="175" width="40" height="20" fill="#ef6428"/><rect x="28" y="175" width="20" height="20" fill="#ef6428"/><rect x="48" y="175" width="20" height="20" fill="#ec5028"/><rect x="68" y="175" width="20" height="20" fill="#ec5028"/><rect x="88" y="175" width="20" height="20" fill="#e9402a"/><rect x="108" y="175" width="20" height="20" fill="#e9402a"/><rect x="128" y="175" width="20" height="20" fill="#e62525"/><rect x="148" y="175" width="20" height="20" fill="#e62525"/><rect x="168" y="175" width="20" height="20" fill="#e62525"/><rect x="188" y="175" width="20" height="20" fill="#d82828"/><rect x="208" y="175" width="20" height="20" fill="#d82828"/><rect x="228" y="175" width="20" height="20" fill="#e62525"/><rect x="248" y="175" width="20" height="20" fill="#e62525"/><rect x="268" y="175" width="20" height="20" fill="#e62525"/><rect x="288" y="175" width="20" height="20" fill="#e9402a"/><rect x="308" y="175" width="20" height="20" fill="#ec5028"/><rect x="328" y="175" width="20" height="20" fill="#e9402a"/><rect x="348" y="175" width="20" height="20" fill="#f5a51f"/><rect x="368" y="175" width="20" height="20" fill="#f5a51f"/><rect x="388" y="175" width="20" height="20" fill="#f5a51f"/><rect x="408" y="175" width="20" height="20" fill="#f5a51f"/><rect x="428" y="175" width="40" height="20" fill="#f5a51f"/><rect x="-12" y="195" width="40" height="20" fill="#ec5028"/><rect x="28" y="195" width="20" height="20" fill="#ec5028"/><rect x="48" y="195" width="20" height="20" fill="#ec5028"/><rect x="68" y="195" width="20" height="20" fill="#ec5028"/><rect x="88" y="195" width="20" height="20" fill="#e9402a"/><rect x="108" y="195" width="20" height="20" fill="#e9402a"/><rect x="128" y="195" width="20" height="20" fill="#e62525"/><rect x="148" y="195" width="20" height="20" fill="#f5a51f"/><rect x="168" y="195" width="20" height="20" fill="#f5a51f"/><rect x="188" y="195" width="20" height="20" fill="#e62525"/><rect x="208" y="195" width="20" height="20" fill="#e62525"/><rect x="228" y="195" width="20" height="20" fill="#e62525"/><rect x="248" y="195" width="20" height="20" fill="#e62525"/><rect x="268" y="195" width="20" height="20" fill="#e62525"/><rect x="288" y="195" width="20" height="20" fill="#e62525"/><rect x="308" y="195" width="20" height="20" fill="#e62525"/><rect x="328" y="195" width="20" height="20" fill="#e9402a"/><rect x="348" y="195" width="20" height="20" fill="#e9402a"/><rect x="368" y="195" width="20" height="20" fill="#ec5028"/><rect x="388" y="195" width="20" height="20" fill="#ec5028"/><rect x="408" y="195" width="20" height="20" fill="#ec5028"/><rect x="428" y="195" width="40" height="20" fill="#ec5028"/><rect x="-12" y="215" width="40" height="20" fill="#ec5028"/><rect x="28" y="215" width="20" height="20" fill="#ec5028"/><rect x="48" y="215" width="20" height="20" fill="#ec5028"/><rect x="68" y="215" width="20" height="20" fill="#ec5028"/><rect x="88" y="215" width="20" height="20" fill="#e9402a"/><rect x="108" y="215" width="20" height="20" fill="#e9402a"/><rect x="128" y="215" width="20" height="20" fill="#e9402a"/><rect x="148" y="215" width="20" height="20" fill="#f5a51f"/><rect x="168" y="215" width="20" height="20" fill="#f5a51f"/><rect x="188" y="215" width="20" height="20" fill="#f5a51f"/><rect x="208" y="215" width="20" height="20" fill="#ec5028"/><rect x="228" y="215" width="20" height="20" fill="#e62525"/><rect x="248" y="215" width="20" height="20" fill="#e62525"/><rect x="268" y="215" width="20" height="20" fill="#e62525"/><rect x="288" y="215" width="20" height="20" fill="#e62525"/><rect x="308" y="215" width="20" height="20" fill="#e62525"/><rect x="328" y="215" width="20" height="20" fill="#e9402a"/><rect x="348" y="215" width="20" height="20" fill="#e9402a"/><rect x="368" y="215" width="20" height="20" fill="#ec5028"/><rect x="388" y="215" width="20" height="20" fill="#ec5028"/><rect x="408" y="215" width="20" height="20" fill="#ec5028"/><rect x="428" y="215" width="40" height="20" fill="#ec5028"/><rect x="-12" y="235" width="40" height="20" fill="#e9402a"/><rect x="28" y="235" width="20" height="20" fill="#e9402a"/><rect x="48" y="235" width="20" height="20" fill="#e9402a"/><rect x="68" y="235" width="20" height="20" fill="#e9402a"/><rect x="88" y="235" width="20" height="20" fill="#e9402a"/><rect x="108" y="235" width="20" height="20" fill="#e9402a"/><rect x="128" y="235" width="20" height="20" fill="#ec5028"/><rect x="148" y="235" width="20" height="20" fill="#86c49c"/><rect x="168" y="235" width="20" height="20" fill="#86c49c"/><rect x="188" y="235" width="20" height="20" fill="#f5a51f"/><rect x="208" y="235" width="20" height="20" fill="#ec5028"/><rect x="228" y="235" width="20" height="20" fill="#e62525"/><rect x="248" y="235" width="20" height="20" fill="#e62525"/><rect x="268" y="235" width="20" height="20" fill="#e62525"/><rect x="288" y="235" width="20" height="20" fill="#e62525"/><rect x="308" y="235" width="20" height="20" fill="#e62525"/><rect x="328" y="235" width="20" height="20" fill="#e9402a"/><rect x="348" y="235" width="20" height="20" fill="#e9402a"/><rect x="368" y="235" width="20" height="20" fill="#ec5028"/><rect x="388" y="235" width="20" height="20" fill="#ec5028"/><rect x="408" y="235" width="20" height="20" fill="#ec5028"/><rect x="428" y="235" width="40" height="20" fill="#ec5028"/><rect x="-12" y="255" width="40" height="20" fill="#e9402a"/><rect x="28" y="255" width="20" height="20" fill="#e9402a"/><rect x="48" y="255" width="20" height="20" fill="#e9402a"/><rect x="68" y="255" width="20" height="20" fill="#e9402a"/><rect x="88" y="255" width="20" height="20" fill="#e9402a"/><rect x="108" y="255" width="20" height="20" fill="#e9402a"/><rect x="128" y="255" width="20" height="20" fill="#ec5028"/><rect x="148" y="255" width="20" height="20" fill="#f39024"/><rect x="168" y="255" width="20" height="20" fill="#ec5028"/><rect x="188" y="255" width="20" height="20" fill="#f5a51f"/><rect x="208" y="255" width="20" height="20" fill="#f5a51f"/><rect x="228" y="255" width="20" height="20" fill="#ec5028"/><rect x="248" y="255" width="20" height="20" fill="#e62525"/><rect x="268" y="255" width="20" height="20" fill="#e62525"/><rect x="288" y="255" width="20" height="20" fill="#e62525"/><rect x="308" y="255" width="20" height="20" fill="#e62525"/><rect x="328" y="255" width="20" height="20" fill="#e9402a"/><rect x="348" y="255" width="20" height="20" fill="#e9402a"/><rect x="368" y="255" width="20" height="20" fill="#ec5028"/><rect x="388" y="255" width="20" height="20" fill="#ec5028"/><rect x="408" y="255" width="20" height="20" fill="#ec5028"/><rect x="428" y="255" width="40" height="20" fill="#ec5028"/><rect x="-12" y="275" width="40" height="20" fill="#e9402a"/><rect x="28" y="275" width="20" height="20" fill="#e9402a"/><rect x="48" y="275" width="20" height="20" fill="#e9402a"/><rect x="68" y="275" width="20" height="20" fill="#e9402a"/><rect x="88" y="275" width="20" height="20" fill="#e9402a"/><rect x="108" y="275" width="20" height="20" fill="#e9402a"/><rect x="128" y="275" width="20" height="20" fill="#ec5028"/><rect x="148" y="275" width="20" height="20" fill="#f39024"/><rect x="168" y="275" width="20" height="20" fill="#e9402a"/><rect x="188" y="275" width="20" height="20" fill="#e9402a"/><rect x="208" y="275" width="20" height="20" fill="#f5a51f"/><rect x="228" y="275" width="20" height="20" fill="#ec5028"/><rect x="248" y="275" width="20" height="20" fill="#ec5028"/><rect x="268" y="275" width="20" height="20" fill="#e62525"/><rect x="288" y="275" width="20" height="20" fill="#e62525"/><rect x="308" y="275" width="20" height="20" fill="#e62525"/><rect x="328" y="275" width="20" height="20" fill="#e9402a"/><rect x="348" y="275" width="20" height="20" fill="#e9402a"/><rect x="368" y="275" width="20" height="20" fill="#ec5028"/><rect x="388" y="275" width="20" height="20" fill="#f5a51f"/><rect x="408" y="275" width="20" height="20" fill="#f5a51f"/><rect x="428" y="275" width="40" height="20" fill="#f5a51f"/><rect x="-12" y="295" width="40" height="20" fill="#e9402a"/><rect x="28" y="295" width="20" height="20" fill="#e9402a"/><rect x="48" y="295" width="20" height="20" fill="#e9402a"/><rect x="68" y="295" width="20" height="20" fill="#e9402a"/><rect x="88" y="295" width="20" height="20" fill="#e9402a"/><rect x="108" y="295" width="20" height="20" fill="#e9402a"/><rect x="128" y="295" width="20" height="20" fill="#ec5028"/><rect x="148" y="295" width="20" height="20" fill="#f39024"/><rect x="168" y="295" width="20" height="20" fill="#ec5028"/><rect x="188" y="295" width="20" height="20" fill="#e9402a"/><rect x="208" y="295" width="20" height="20" fill="#f5a51f"/><rect x="228" y="295" width="20" height="20" fill="#f5a51f"/><rect x="248" y="295" width="20" height="20" fill="#ec5028"/><rect x="268" y="295" width="20" height="20" fill="#ec5028"/><rect x="288" y="295" width="20" height="20" fill="#e9402a"/><rect x="308" y="295" width="20" height="20" fill="#e62525"/><rect x="328" y="295" width="20" height="20" fill="#e9402a"/><rect x="348" y="295" width="20" height="20" fill="#ec5028"/><rect x="368" y="295" width="20" height="20" fill="#ef6428"/><rect x="388" y="295" width="20" height="20" fill="#f5a51f"/><rect x="408" y="295" width="20" height="20" fill="#f5a51f"/><rect x="428" y="295" width="40" height="20" fill="#f5a51f"/><rect x="-12" y="315" width="40" height="20" fill="#e9402a"/><rect x="28" y="315" width="20" height="20" fill="#e9402a"/><rect x="48" y="315" width="20" height="20" fill="#e9402a"/><rect x="68" y="315" width="20" height="20" fill="#e9402a"/><rect x="88" y="315" width="20" height="20" fill="#e9402a"/><rect x="108" y="315" width="20" height="20" fill="#e9402a"/><rect x="128" y="315" width="20" height="20" fill="#ec5028"/><rect x="148" y="315" width="20" height="20" fill="#f39024"/><rect x="168" y="315" width="20" height="20" fill="#c8d440"/><rect x="188" y="315" width="20" height="20" fill="#c8d440"/><rect x="208" y="315" width="20" height="20" fill="#ec5028"/><rect x="228" y="315" width="20" height="20" fill="#f5a51f"/><rect x="248" y="315" width="20" height="20" fill="#f39024"/><rect x="268" y="315" width="20" height="20" fill="#ec5028"/><rect x="288" y="315" width="20" height="20" fill="#ec5028"/><rect x="308" y="315" width="20" height="20" fill="#f39024"/><rect x="328" y="315" width="20" height="20" fill="#e9402a"/><rect x="348" y="315" width="20" height="20" fill="#ec5028"/><rect x="368" y="315" width="20" height="20" fill="#f5a51f"/><rect x="388" y="315" width="20" height="20" fill="#f5a51f"/><rect x="408" y="315" width="20" height="20" fill="#f5a51f"/><rect x="428" y="315" width="40" height="20" fill="#f5a51f"/><rect x="-12" y="335" width="40" height="20" fill="#f5a51f"/><rect x="28" y="335" width="20" height="20" fill="#f5a51f"/><rect x="48" y="335" width="20" height="20" fill="#f5a51f"/><rect x="68" y="335" width="20" height="20" fill="#f5a51f"/><rect x="88" y="335" width="20" height="20" fill="#f5a51f"/><rect x="108" y="335" width="20" height="20" fill="#f5a51f"/><rect x="128" y="335" width="20" height="20" fill="#f7bc1a"/><rect x="148" y="335" width="20" height="20" fill="#f5a51f"/><rect x="168" y="335" width="20" height="20" fill="#c8d440"/><rect x="188" y="335" width="20" height="20" fill="#f7bc1a"/><rect x="208" y="335" width="20" height="20" fill="#e9402a"/><rect x="228" y="335" width="20" height="20" fill="#f5a51f"/><rect x="248" y="335" width="20" height="20" fill="#f39024"/><rect x="268" y="335" width="20" height="20" fill="#f39024"/><rect x="288" y="335" width="20" height="20" fill="#f39024"/><rect x="308" y="335" width="20" height="20" fill="#f5a51f"/><rect x="328" y="335" width="20" height="20" fill="#ec5028"/><rect x="348" y="335" width="20" height="20" fill="#f39024"/><rect x="368" y="335" width="20" height="20" fill="#f5a51f"/><rect x="388" y="335" width="20" height="20" fill="#f5a51f"/><rect x="408" y="335" width="20" height="20" fill="#f5a51f"/><rect x="428" y="335" width="40" height="20" fill="#f5a51f"/><rect x="-12" y="355" width="40" height="20" fill="#c8d440"/><rect x="28" y="355" width="20" height="20" fill="#c8d440"/><rect x="48" y="355" width="20" height="20" fill="#c8d440"/><rect x="68" y="355" width="20" height="20" fill="#c8d440"/><rect x="88" y="355" width="20" height="20" fill="#c8d440"/><rect x="108" y="355" width="20" height="20" fill="#c8d440"/><rect x="128" y="355" width="20" height="20" fill="#f7bc1a"/><rect x="148" y="355" width="20" height="20" fill="#f7bc1a"/><rect x="168" y="355" width="20" height="20" fill="#f7bc1a"/><rect x="188" y="355" width="20" height="20" fill="#c8d440"/><rect x="208" y="355" width="20" height="20" fill="#e62525"/><rect x="228" y="355" width="20" height="20" fill="#e9402a"/><rect x="248" y="355" width="20" height="20" fill="#e9402a"/><rect x="268" y="355" width="20" height="20" fill="#e9402a"/><rect x="288" y="355" width="20" height="20" fill="#f5a51f"/><rect x="308" y="355" width="20" height="20" fill="#f5a51f"/><rect x="328" y="355" width="20" height="20" fill="#f5a51f"/><rect x="348" y="355" width="20" height="20" fill="#f5a51f"/><rect x="368" y="355" width="20" height="20" fill="#f5a51f"/><rect x="388" y="355" width="20" height="20" fill="#f7bc1a"/><rect x="408" y="355" width="20" height="20" fill="#f7bc1a"/><rect x="428" y="355" width="40" height="20" fill="#f7bc1a"/><rect x="-12" y="375" width="40" height="20" fill="#86c49c"/><rect x="28" y="375" width="20" height="20" fill="#86c49c"/><rect x="48" y="375" width="20" height="20" fill="#86c49c"/><rect x="68" y="375" width="20" height="20" fill="#86c49c"/><rect x="88" y="375" width="20" height="20" fill="#86c49c"/><rect x="108" y="375" width="20" height="20" fill="#c8d440"/><rect x="128" y="375" width="20" height="20" fill="#c8d440"/><rect x="148" y="375" width="20" height="20" fill="#f7bc1a"/><rect x="168" y="375" width="20" height="20" fill="#86c49c"/><rect x="188" y="375" width="20" height="20" fill="#c8d440"/><rect x="208" y="375" width="20" height="20" fill="#e9402a"/><rect x="228" y="375" width="20" height="20" fill="#e9402a"/><rect x="248" y="375" width="20" height="20" fill="#e9402a"/><rect x="268" y="375" width="20" height="20" fill="#ec5028"/><rect x="288" y="375" width="20" height="20" fill="#f5a51f"/><rect x="308" y="375" width="20" height="20" fill="#f5a51f"/><rect x="328" y="375" width="20" height="20" fill="#ec5028"/><rect x="348" y="375" width="20" height="20" fill="#ec5028"/><rect x="368" y="375" width="20" height="20" fill="#f5a51f"/><rect x="388" y="375" width="20" height="20" fill="#f7bc1a"/><rect x="408" y="375" width="20" height="20" fill="#f7bc1a"/><rect x="428" y="375" width="40" height="20" fill="#f7bc1a"/><rect x="-12" y="395" width="40" height="20" fill="#f5d21e"/><rect x="28" y="395" width="20" height="20" fill="#f5d21e"/><rect x="48" y="395" width="20" height="20" fill="#f5d21e"/><rect x="68" y="395" width="20" height="20" fill="#f5d21e"/><rect x="88" y="395" width="20" height="20" fill="#f5d21e"/><rect x="108" y="395" width="20" height="20" fill="#f5d21e"/><rect x="128" y="395" width="20" height="20" fill="#c8d440"/><rect x="148" y="395" width="20" height="20" fill="#f7bc1a"/><rect x="168" y="395" width="20" height="20" fill="#c8d440"/><rect x="188" y="395" width="20" height="20" fill="#f7bc1a"/><rect x="208" y="395" width="20" height="20" fill="#e9402a"/><rect x="228" y="395" width="20" height="20" fill="#ec5028"/><rect x="248" y="395" width="20" height="20" fill="#ec5028"/><rect x="268" y="395" width="20" height="20" fill="#ec5028"/><rect x="288" y="395" width="20" height="20" fill="#ec5028"/><rect x="308" y="395" width="20" height="20" fill="#f39024"/><rect x="328" y="395" width="20" height="20" fill="#ec5028"/><rect x="348" y="395" width="20" height="20" fill="#ec5028"/><rect x="368" y="395" width="20" height="20" fill="#f5a51f"/><rect x="388" y="395" width="20" height="20" fill="#f7bc1a"/><rect x="408" y="395" width="20" height="20" fill="#f7bc1a"/><rect x="428" y="395" width="40" height="20" fill="#f7bc1a"/><rect x="-12" y="415" width="40" height="20" fill="#86c49c"/><rect x="28" y="415" width="20" height="20" fill="#86c49c"/><rect x="48" y="415" width="20" height="20" fill="#86c49c"/><rect x="68" y="415" width="20" height="20" fill="#86c49c"/><rect x="88" y="415" width="20" height="20" fill="#86c49c"/><rect x="108" y="415" width="20" height="20" fill="#86c49c"/><rect x="128" y="415" width="20" height="20" fill="#f7bc1a"/><rect x="148" y="415" width="20" height="20" fill="#c8d440"/><rect x="168" y="415" width="20" height="20" fill="#86c49c"/><rect x="188" y="415" width="20" height="20" fill="#f7bc1a"/><rect x="208" y="415" width="20" height="20" fill="#ec5028"/><rect x="228" y="415" width="20" height="20" fill="#ec5028"/><rect x="248" y="415" width="20" height="20" fill="#ec5028"/><rect x="268" y="415" width="20" height="20" fill="#ec5028"/><rect x="288" y="415" width="20" height="20" fill="#ec5028"/><rect x="308" y="415" width="20" height="20" fill="#ec5028"/><rect x="328" y="415" width="20" height="20" fill="#ec5028"/><rect x="348" y="415" width="20" height="20" fill="#f5a51f"/><rect x="368" y="415" width="20" height="20" fill="#f7bc1a"/><rect x="388" y="415" width="20" height="20" fill="#f7bc1a"/><rect x="408" y="415" width="20" height="20" fill="#f7bc1a"/><rect x="428" y="415" width="40" height="20" fill="#f7bc1a"/><rect x="-12" y="435" width="40" height="20" fill="#c8d440"/><rect x="28" y="435" width="20" height="20" fill="#c8d440"/><rect x="48" y="435" width="20" height="20" fill="#c8d440"/><rect x="68" y="435" width="20" height="20" fill="#c8d440"/><rect x="88" y="435" width="20" height="20" fill="#c8d440"/><rect x="108" y="435" width="20" height="20" fill="#c8d440"/><rect x="128" y="435" width="20" height="20" fill="#f5d21e"/><rect x="148" y="435" width="20" height="20" fill="#f5d21e"/><rect x="168" y="435" width="20" height="20" fill="#c8d440"/><rect x="188" y="435" width="20" height="20" fill="#f7bc1a"/><rect x="208" y="435" width="20" height="20" fill="#ef6428"/><rect x="228" y="435" width="20" height="20" fill="#ec5028"/><rect x="248" y="435" width="20" height="20" fill="#f39024"/><rect x="268" y="435" width="20" height="20" fill="#f5a51f"/><rect x="288" y="435" width="20" height="20" fill="#f5a51f"/><rect x="308" y="435" width="20" height="20" fill="#ec5028"/><rect x="328" y="435" width="20" height="20" fill="#f5a51f"/><rect x="348" y="435" width="20" height="20" fill="#f7bc1a"/><rect x="368" y="435" width="20" height="20" fill="#f7bc1a"/><rect x="388" y="435" width="20" height="20" fill="#f7bc1a"/><rect x="408" y="435" width="20" height="20" fill="#f7bc1a"/><rect x="428" y="435" width="40" height="20" fill="#f7bc1a"/><rect x="-12" y="455" width="40" height="20" fill="#f5d21e"/><rect x="28" y="455" width="20" height="20" fill="#f5d21e"/><rect x="48" y="455" width="20" height="20" fill="#f5d21e"/><rect x="68" y="455" width="20" height="20" fill="#f5d21e"/><rect x="88" y="455" width="20" height="20" fill="#f5d21e"/><rect x="108" y="455" width="20" height="20" fill="#f5d21e"/><rect x="128" y="455" width="20" height="20" fill="#f7bc1a"/><rect x="148" y="455" width="20" height="20" fill="#f39024"/><rect x="168" y="455" width="20" height="20" fill="#f7bc1a"/><rect x="188" y="455" width="20" height="20" fill="#f39024"/><rect x="208" y="455" width="20" height="20" fill="#ec5028"/><rect x="228" y="455" width="20" height="20" fill="#ec5028"/><rect x="248" y="455" width="20" height="20" fill="#f39024"/><rect x="268" y="455" width="20" height="20" fill="#f5a51f"/><rect x="288" y="455" width="20" height="20" fill="#f39024"/><rect x="308" y="455" width="20" height="20" fill="#f39024"/><rect x="328" y="455" width="20" height="20" fill="#f7bc1a"/><rect x="348" y="455" width="20" height="20" fill="#f7bc1a"/><rect x="368" y="455" width="20" height="20" fill="#f7bc1a"/><rect x="388" y="455" width="20" height="20" fill="#f7bc1a"/><rect x="408" y="455" width="20" height="20" fill="#f7bc1a"/><rect x="428" y="455" width="40" height="20" fill="#f7bc1a"/><rect x="-12" y="475" width="40" height="20" fill="#f39024"/><rect x="28" y="475" width="20" height="20" fill="#f39024"/><rect x="48" y="475" width="20" height="20" fill="#f39024"/><rect x="68" y="475" width="20" height="20" fill="#f39024"/><rect x="88" y="475" width="20" height="20" fill="#f39024"/><rect x="108" y="475" width="20" height="20" fill="#f39024"/><rect x="128" y="475" width="20" height="20" fill="#f39024"/><rect x="148" y="475" width="20" height="20" fill="#ef6428"/><rect x="168" y="475" width="20" height="20" fill="#f39024"/><rect x="188" y="475" width="20" height="20" fill="#ef6428"/><rect x="208" y="475" width="20" height="20" fill="#ec5028"/><rect x="228" y="475" width="20" height="20" fill="#ec5028"/><rect x="248" y="475" width="20" height="20" fill="#ec5028"/><rect x="268" y="475" width="20" height="20" fill="#ec5028"/><rect x="288" y="475" width="20" height="20" fill="#ec5028"/><rect x="308" y="475" width="20" height="20" fill="#f5a51f"/><rect x="328" y="475" width="20" height="20" fill="#f7bc1a"/><rect x="348" y="475" width="20" height="20" fill="#f7bc1a"/><rect x="368" y="475" width="20" height="20" fill="#f7bc1a"/><rect x="388" y="475" width="20" height="20" fill="#f7bc1a"/><rect x="408" y="475" width="20" height="20" fill="#f7bc1a"/><rect x="428" y="475" width="40" height="20" fill="#f7bc1a"/><rect x="-12" y="495" width="40" height="40" fill="#ef6428"/><rect x="28" y="495" width="20" height="40" fill="#ef6428"/><rect x="48" y="495" width="20" height="40" fill="#ef6428"/><rect x="68" y="495" width="20" height="40" fill="#ef6428"/><rect x="88" y="495" width="20" height="40" fill="#ef6428"/><rect x="108" y="495" width="20" height="40" fill="#ef6428"/><rect x="128" y="495" width="20" height="40" fill="#ef6428"/><rect x="148" y="495" width="20" height="40" fill="#ef6428"/><rect x="168" y="495" width="20" height="40" fill="#ef6428"/><rect x="188" y="495" width="20" height="40" fill="#ec5028"/><rect x="208" y="495" width="20" height="40" fill="#ec5028"/><rect x="228" y="495" width="20" height="40" fill="#ec5028"/><rect x="248" y="495" width="20" height="40" fill="#ec5028"/><rect x="268" y="495" width="20" height="40" fill="#ec5028"/><rect x="288" y="495" width="20" height="40" fill="#ec5028"/><rect x="308" y="495" width="20" height="40" fill="#f5a51f"/><rect x="328" y="495" width="20" height="40" fill="#f7bc1a"/><rect x="348" y="495" width="20" height="40" fill="#f7bc1a"/><rect x="368" y="495" width="20" height="40" fill="#f7bc1a"/><rect x="388" y="495" width="20" height="40" fill="#f7bc1a"/><rect x="408" y="495" width="20" height="40" fill="#f7bc1a"/><rect x="428" y="495" width="40" height="40" fill="#f7bc1a"/></g></g><g clip-path="url(#cLow)"><g filter="url(#bl)"><rect x="-12" y="15" width="40" height="40" fill="#ef6428"/><rect x="28" y="15" width="20" height="40" fill="#ef6428"/><rect x="48" y="15" width="20" height="40" fill="#ef6428"/><rect x="68" y="15" width="20" height="40" fill="#ef6428"/><rect x="88" y="15" width="20" height="40" fill="#ef6428"/><rect x="108" y="15" width="20" height="40" fill="#ec5028"/><rect x="128" y="15" width="20" height="40" fill="#e9402a"/><rect x="148" y="15" width="20" height="40" fill="#e9402a"/><rect x="168" y="15" width="20" height="40" fill="#e62525"/><rect x="188" y="15" width="20" height="40" fill="#e62525"/><rect x="208" y="15" width="20" height="40" fill="#e62525"/><rect x="228" y="15" width="20" height="40" fill="#e62525"/><rect x="248" y="15" width="20" height="40" fill="#e62525"/><rect x="268" y="15" width="20" height="40" fill="#e62525"/><rect x="288" y="15" width="20" height="40" fill="#e9402a"/><rect x="308" y="15" width="20" height="40" fill="#ec5028"/><rect x="328" y="15" width="20" height="40" fill="#c8d440"/><rect x="348" y="15" width="20" height="40" fill="#f5a51f"/><rect x="368" y="15" width="20" height="40" fill="#ec5028"/><rect x="388" y="15" width="20" height="40" fill="#ec5028"/><rect x="408" y="15" width="20" height="40" fill="#ec5028"/><rect x="428" y="15" width="40" height="40" fill="#ec5028"/><rect x="-12" y="55" width="40" height="20" fill="#ef6428"/><rect x="28" y="55" width="20" height="20" fill="#ef6428"/><rect x="48" y="55" width="20" height="20" fill="#ef6428"/><rect x="68" y="55" width="20" height="20" fill="#ef6428"/><rect x="88" y="55" width="20" height="20" fill="#ef6428"/><rect x="108" y="55" width="20" height="20" fill="#ec5028"/><rect x="128" y="55" width="20" height="20" fill="#e9402a"/><rect x="148" y="55" width="20" height="20" fill="#e9402a"/><rect x="168" y="55" width="20" height="20" fill="#e62525"/><rect x="188" y="55" width="20" height="20" fill="#e62525"/><rect x="208" y="55" width="20" height="20" fill="#e62525"/><rect x="228" y="55" width="20" height="20" fill="#e62525"/><rect x="248" y="55" width="20" height="20" fill="#e62525"/><rect x="268" y="55" width="20" height="20" fill="#e62525"/><rect x="288" y="55" width="20" height="20" fill="#e9402a"/><rect x="308" y="55" width="20" height="20" fill="#ec5028"/><rect x="328" y="55" width="20" height="20" fill="#c8d440"/><rect x="348" y="55" width="20" height="20" fill="#f7bc1a"/><rect x="368" y="55" width="20" height="20" fill="#ec5028"/><rect x="388" y="55" width="20" height="20" fill="#ec5028"/><rect x="408" y="55" width="20" height="20" fill="#ec5028"/><rect x="428" y="55" width="40" height="20" fill="#ec5028"/><rect x="-12" y="75" width="40" height="20" fill="#ef6428"/><rect x="28" y="75" width="20" height="20" fill="#ef6428"/><rect x="48" y="75" width="20" height="20" fill="#ef6428"/><rect x="68" y="75" width="20" height="20" fill="#ef6428"/><rect x="88" y="75" width="20" height="20" fill="#ef6428"/><rect x="108" y="75" width="20" height="20" fill="#ec5028"/><rect x="128" y="75" width="20" height="20" fill="#e9402a"/><rect x="148" y="75" width="20" height="20" fill="#e9402a"/><rect x="168" y="75" width="20" height="20" fill="#e62525"/><rect x="188" y="75" width="20" height="20" fill="#e62525"/><rect x="208" y="75" width="20" height="20" fill="#e62525"/><rect x="228" y="75" width="20" height="20" fill="#e62525"/><rect x="248" y="75" width="20" height="20" fill="#e62525"/><rect x="268" y="75" width="20" height="20" fill="#e62525"/><rect x="288" y="75" width="20" height="20" fill="#e9402a"/><rect x="308" y="75" width="20" height="20" fill="#ec5028"/><rect x="328" y="75" width="20" height="20" fill="#f39024"/><rect x="348" y="75" width="20" height="20" fill="#f39024"/><rect x="368" y="75" width="20" height="20" fill="#ec5028"/><rect x="388" y="75" width="20" height="20" fill="#ec5028"/><rect x="408" y="75" width="20" height="20" fill="#ec5028"/><rect x="428" y="75" width="40" height="20" fill="#ec5028"/><rect x="-12" y="95" width="40" height="20" fill="#ef6428"/><rect x="28" y="95" width="20" height="20" fill="#ef6428"/><rect x="48" y="95" width="20" height="20" fill="#ef6428"/><rect x="68" y="95" width="20" height="20" fill="#ef6428"/><rect x="88" y="95" width="20" height="20" fill="#ec5028"/><rect x="108" y="95" width="20" height="20" fill="#ec5028"/><rect x="128" y="95" width="20" height="20" fill="#e9402a"/><rect x="148" y="95" width="20" height="20" fill="#e9402a"/><rect x="168" y="95" width="20" height="20" fill="#e62525"/><rect x="188" y="95" width="20" height="20" fill="#e62525"/><rect x="208" y="95" width="20" height="20" fill="#e62525"/><rect x="228" y="95" width="20" height="20" fill="#e62525"/><rect x="248" y="95" width="20" height="20" fill="#e62525"/><rect x="268" y="95" width="20" height="20" fill="#e62525"/><rect x="288" y="95" width="20" height="20" fill="#e9402a"/><rect x="308" y="95" width="20" height="20" fill="#ec5028"/><rect x="328" y="95" width="20" height="20" fill="#f39024"/><rect x="348" y="95" width="20" height="20" fill="#f5a51f"/><rect x="368" y="95" width="20" height="20" fill="#f39024"/><rect x="388" y="95" width="20" height="20" fill="#f39024"/><rect x="408" y="95" width="20" height="20" fill="#f39024"/><rect x="428" y="95" width="40" height="20" fill="#f39024"/><rect x="-12" y="115" width="40" height="20" fill="#ef6428"/><rect x="28" y="115" width="20" height="20" fill="#ef6428"/><rect x="48" y="115" width="20" height="20" fill="#ef6428"/><rect x="68" y="115" width="20" height="20" fill="#ef6428"/><rect x="88" y="115" width="20" height="20" fill="#ec5028"/><rect x="108" y="115" width="20" height="20" fill="#e9402a"/><rect x="128" y="115" width="20" height="20" fill="#e9402a"/><rect x="148" y="115" width="20" height="20" fill="#e62525"/><rect x="168" y="115" width="20" height="20" fill="#e62525"/><rect x="188" y="115" width="20" height="20" fill="#e62525"/><rect x="208" y="115" width="20" height="20" fill="#e62525"/><rect x="228" y="115" width="20" height="20" fill="#e62525"/><rect x="248" y="115" width="20" height="20" fill="#e62525"/><rect x="268" y="115" width="20" height="20" fill="#e62525"/><rect x="288" y="115" width="20" height="20" fill="#e9402a"/><rect x="308" y="115" width="20" height="20" fill="#ec5028"/><rect x="328" y="115" width="20" height="20" fill="#f5a51f"/><rect x="348" y="115" width="20" height="20" fill="#f5a51f"/><rect x="368" y="115" width="20" height="20" fill="#f5a51f"/><rect x="388" y="115" width="20" height="20" fill="#f5a51f"/><rect x="408" y="115" width="20" height="20" fill="#f5a51f"/><rect x="428" y="115" width="40" height="20" fill="#f5a51f"/><rect x="-12" y="135" width="40" height="20" fill="#ef6428"/><rect x="28" y="135" width="20" height="20" fill="#ef6428"/><rect x="48" y="135" width="20" height="20" fill="#ef6428"/><rect x="68" y="135" width="20" height="20" fill="#ec5028"/><rect x="88" y="135" width="20" height="20" fill="#ec5028"/><rect x="108" y="135" width="20" height="20" fill="#e9402a"/><rect x="128" y="135" width="20" height="20" fill="#e62525"/><rect x="148" y="135" width="20" height="20" fill="#e62525"/><rect x="168" y="135" width="20" height="20" fill="#e62525"/><rect x="188" y="135" width="20" height="20" fill="#e62525"/><rect x="208" y="135" width="20" height="20" fill="#e62525"/><rect x="228" y="135" width="20" height="20" fill="#e62525"/><rect x="248" y="135" width="20" height="20" fill="#e62525"/><rect x="268" y="135" width="20" height="20" fill="#e62525"/><rect x="288" y="135" width="20" height="20" fill="#e9402a"/><rect x="308" y="135" width="20" height="20" fill="#ec5028"/><rect x="328" y="135" width="20" height="20" fill="#f5a51f"/><rect x="348" y="135" width="20" height="20" fill="#f5a51f"/><rect x="368" y="135" width="20" height="20" fill="#f5a51f"/><rect x="388" y="135" width="20" height="20" fill="#f5a51f"/><rect x="408" y="135" width="20" height="20" fill="#f5a51f"/><rect x="428" y="135" width="40" height="20" fill="#f5a51f"/><rect x="-12" y="155" width="40" height="20" fill="#ef6428"/><rect x="28" y="155" width="20" height="20" fill="#ef6428"/><rect x="48" y="155" width="20" height="20" fill="#ec5028"/><rect x="68" y="155" width="20" height="20" fill="#ef6428"/><rect x="88" y="155" width="20" height="20" fill="#ec5028"/><rect x="108" y="155" width="20" height="20" fill="#e9402a"/><rect x="128" y="155" width="20" height="20" fill="#e62525"/><rect x="148" y="155" width="20" height="20" fill="#e62525"/><rect x="168" y="155" width="20" height="20" fill="#e62525"/><rect x="188" y="155" width="20" height="20" fill="#d82828"/><rect x="208" y="155" width="20" height="20" fill="#d82828"/><rect x="228" y="155" width="20" height="20" fill="#e62525"/><rect x="248" y="155" width="20" height="20" fill="#e62525"/><rect x="268" y="155" width="20" height="20" fill="#e62525"/><rect x="288" y="155" width="20" height="20" fill="#e9402a"/><rect x="308" y="155" width="20" height="20" fill="#ec5028"/><rect x="328" y="155" width="20" height="20" fill="#f39024"/><rect x="348" y="155" width="20" height="20" fill="#f5a51f"/><rect x="368" y="155" width="20" height="20" fill="#f5a51f"/><rect x="388" y="155" width="20" height="20" fill="#f5a51f"/><rect x="408" y="155" width="20" height="20" fill="#f5a51f"/><rect x="428" y="155" width="40" height="20" fill="#f5a51f"/><rect x="-12" y="175" width="40" height="20" fill="#ef6428"/><rect x="28" y="175" width="20" height="20" fill="#ef6428"/><rect x="48" y="175" width="20" height="20" fill="#ec5028"/><rect x="68" y="175" width="20" height="20" fill="#ec5028"/><rect x="88" y="175" width="20" height="20" fill="#e9402a"/><rect x="108" y="175" width="20" height="20" fill="#e9402a"/><rect x="128" y="175" width="20" height="20" fill="#e62525"/><rect x="148" y="175" width="20" height="20" fill="#e62525"/><rect x="168" y="175" width="20" height="20" fill="#e62525"/><rect x="188" y="175" width="20" height="20" fill="#d82828"/><rect x="208" y="175" width="20" height="20" fill="#d82828"/><rect x="228" y="175" width="20" height="20" fill="#e62525"/><rect x="248" y="175" width="20" height="20" fill="#e62525"/><rect x="268" y="175" width="20" height="20" fill="#e62525"/><rect x="288" y="175" width="20" height="20" fill="#e9402a"/><rect x="308" y="175" width="20" height="20" fill="#ec5028"/><rect x="328" y="175" width="20" height="20" fill="#e9402a"/><rect x="348" y="175" width="20" height="20" fill="#f5a51f"/><rect x="368" y="175" width="20" height="20" fill="#f5a51f"/><rect x="388" y="175" width="20" height="20" fill="#f5a51f"/><rect x="408" y="175" width="20" height="20" fill="#f5a51f"/><rect x="428" y="175" width="40" height="20" fill="#f5a51f"/><rect x="-12" y="195" width="40" height="20" fill="#ec5028"/><rect x="28" y="195" width="20" height="20" fill="#ec5028"/><rect x="48" y="195" width="20" height="20" fill="#ec5028"/><rect x="68" y="195" width="20" height="20" fill="#ec5028"/><rect x="88" y="195" width="20" height="20" fill="#e9402a"/><rect x="108" y="195" width="20" height="20" fill="#e9402a"/><rect x="128" y="195" width="20" height="20" fill="#e62525"/><rect x="148" y="195" width="20" height="20" fill="#f5a51f"/><rect x="168" y="195" width="20" height="20" fill="#f5a51f"/><rect x="188" y="195" width="20" height="20" fill="#e62525"/><rect x="208" y="195" width="20" height="20" fill="#e62525"/><rect x="228" y="195" width="20" height="20" fill="#e62525"/><rect x="248" y="195" width="20" height="20" fill="#e62525"/><rect x="268" y="195" width="20" height="20" fill="#e62525"/><rect x="288" y="195" width="20" height="20" fill="#e62525"/><rect x="308" y="195" width="20" height="20" fill="#e62525"/><rect x="328" y="195" width="20" height="20" fill="#e9402a"/><rect x="348" y="195" width="20" height="20" fill="#e9402a"/><rect x="368" y="195" width="20" height="20" fill="#ec5028"/><rect x="388" y="195" width="20" height="20" fill="#ec5028"/><rect x="408" y="195" width="20" height="20" fill="#ec5028"/><rect x="428" y="195" width="40" height="20" fill="#ec5028"/><rect x="-12" y="215" width="40" height="20" fill="#ec5028"/><rect x="28" y="215" width="20" height="20" fill="#ec5028"/><rect x="48" y="215" width="20" height="20" fill="#ec5028"/><rect x="68" y="215" width="20" height="20" fill="#ec5028"/><rect x="88" y="215" width="20" height="20" fill="#e9402a"/><rect x="108" y="215" width="20" height="20" fill="#e9402a"/><rect x="128" y="215" width="20" height="20" fill="#e9402a"/><rect x="148" y="215" width="20" height="20" fill="#f5a51f"/><rect x="168" y="215" width="20" height="20" fill="#f5a51f"/><rect x="188" y="215" width="20" height="20" fill="#f5a51f"/><rect x="208" y="215" width="20" height="20" fill="#ec5028"/><rect x="228" y="215" width="20" height="20" fill="#e62525"/><rect x="248" y="215" width="20" height="20" fill="#e62525"/><rect x="268" y="215" width="20" height="20" fill="#e62525"/><rect x="288" y="215" width="20" height="20" fill="#e62525"/><rect x="308" y="215" width="20" height="20" fill="#e62525"/><rect x="328" y="215" width="20" height="20" fill="#e9402a"/><rect x="348" y="215" width="20" height="20" fill="#e9402a"/><rect x="368" y="215" width="20" height="20" fill="#ec5028"/><rect x="388" y="215" width="20" height="20" fill="#ec5028"/><rect x="408" y="215" width="20" height="20" fill="#ec5028"/><rect x="428" y="215" width="40" height="20" fill="#ec5028"/><rect x="-12" y="235" width="40" height="20" fill="#e9402a"/><rect x="28" y="235" width="20" height="20" fill="#e9402a"/><rect x="48" y="235" width="20" height="20" fill="#e9402a"/><rect x="68" y="235" width="20" height="20" fill="#e9402a"/><rect x="88" y="235" width="20" height="20" fill="#e9402a"/><rect x="108" y="235" width="20" height="20" fill="#e9402a"/><rect x="128" y="235" width="20" height="20" fill="#ec5028"/><rect x="148" y="235" width="20" height="20" fill="#86c49c"/><rect x="168" y="235" width="20" height="20" fill="#86c49c"/><rect x="188" y="235" width="20" height="20" fill="#f5a51f"/><rect x="208" y="235" width="20" height="20" fill="#ec5028"/><rect x="228" y="235" width="20" height="20" fill="#e62525"/><rect x="248" y="235" width="20" height="20" fill="#e62525"/><rect x="268" y="235" width="20" height="20" fill="#e62525"/><rect x="288" y="235" width="20" height="20" fill="#e62525"/><rect x="308" y="235" width="20" height="20" fill="#e62525"/><rect x="328" y="235" width="20" height="20" fill="#e9402a"/><rect x="348" y="235" width="20" height="20" fill="#e9402a"/><rect x="368" y="235" width="20" height="20" fill="#ec5028"/><rect x="388" y="235" width="20" height="20" fill="#ec5028"/><rect x="408" y="235" width="20" height="20" fill="#ec5028"/><rect x="428" y="235" width="40" height="20" fill="#ec5028"/><rect x="-12" y="255" width="40" height="20" fill="#e9402a"/><rect x="28" y="255" width="20" height="20" fill="#e9402a"/><rect x="48" y="255" width="20" height="20" fill="#e9402a"/><rect x="68" y="255" width="20" height="20" fill="#e9402a"/><rect x="88" y="255" width="20" height="20" fill="#e9402a"/><rect x="108" y="255" width="20" height="20" fill="#e9402a"/><rect x="128" y="255" width="20" height="20" fill="#ec5028"/><rect x="148" y="255" width="20" height="20" fill="#f39024"/><rect x="168" y="255" width="20" height="20" fill="#ec5028"/><rect x="188" y="255" width="20" height="20" fill="#f5a51f"/><rect x="208" y="255" width="20" height="20" fill="#f5a51f"/><rect x="228" y="255" width="20" height="20" fill="#ec5028"/><rect x="248" y="255" width="20" height="20" fill="#e62525"/><rect x="268" y="255" width="20" height="20" fill="#e62525"/><rect x="288" y="255" width="20" height="20" fill="#e62525"/><rect x="308" y="255" width="20" height="20" fill="#e62525"/><rect x="328" y="255" width="20" height="20" fill="#e9402a"/><rect x="348" y="255" width="20" height="20" fill="#e9402a"/><rect x="368" y="255" width="20" height="20" fill="#ec5028"/><rect x="388" y="255" width="20" height="20" fill="#ec5028"/><rect x="408" y="255" width="20" height="20" fill="#ec5028"/><rect x="428" y="255" width="40" height="20" fill="#ec5028"/><rect x="-12" y="275" width="40" height="20" fill="#c8d440"/><rect x="28" y="275" width="20" height="20" fill="#c8d440"/><rect x="48" y="275" width="20" height="20" fill="#c8d440"/><rect x="68" y="275" width="20" height="20" fill="#c8d440"/><rect x="88" y="275" width="20" height="20" fill="#f5a51f"/><rect x="108" y="275" width="20" height="20" fill="#f5a51f"/><rect x="128" y="275" width="20" height="20" fill="#f39024"/><rect x="148" y="275" width="20" height="20" fill="#f39024"/><rect x="168" y="275" width="20" height="20" fill="#e9402a"/><rect x="188" y="275" width="20" height="20" fill="#e9402a"/><rect x="208" y="275" width="20" height="20" fill="#f5a51f"/><rect x="228" y="275" width="20" height="20" fill="#ec5028"/><rect x="248" y="275" width="20" height="20" fill="#ec5028"/><rect x="268" y="275" width="20" height="20" fill="#e62525"/><rect x="288" y="275" width="20" height="20" fill="#e62525"/><rect x="308" y="275" width="20" height="20" fill="#e62525"/><rect x="328" y="275" width="20" height="20" fill="#e9402a"/><rect x="348" y="275" width="20" height="20" fill="#e9402a"/><rect x="368" y="275" width="20" height="20" fill="#ec5028"/><rect x="388" y="275" width="20" height="20" fill="#f5a51f"/><rect x="408" y="275" width="20" height="20" fill="#f5a51f"/><rect x="428" y="275" width="40" height="20" fill="#f5a51f"/><rect x="-12" y="295" width="40" height="20" fill="#c8d440"/><rect x="28" y="295" width="20" height="20" fill="#c8d440"/><rect x="48" y="295" width="20" height="20" fill="#c8d440"/><rect x="68" y="295" width="20" height="20" fill="#c8d440"/><rect x="88" y="295" width="20" height="20" fill="#f5a51f"/><rect x="108" y="295" width="20" height="20" fill="#f5a51f"/><rect x="128" y="295" width="20" height="20" fill="#f39024"/><rect x="148" y="295" width="20" height="20" fill="#f39024"/><rect x="168" y="295" width="20" height="20" fill="#ec5028"/><rect x="188" y="295" width="20" height="20" fill="#e9402a"/><rect x="208" y="295" width="20" height="20" fill="#f5a51f"/><rect x="228" y="295" width="20" height="20" fill="#f5a51f"/><rect x="248" y="295" width="20" height="20" fill="#ec5028"/><rect x="268" y="295" width="20" height="20" fill="#ec5028"/><rect x="288" y="295" width="20" height="20" fill="#e9402a"/><rect x="308" y="295" width="20" height="20" fill="#e62525"/><rect x="328" y="295" width="20" height="20" fill="#e9402a"/><rect x="348" y="295" width="20" height="20" fill="#ec5028"/><rect x="368" y="295" width="20" height="20" fill="#ef6428"/><rect x="388" y="295" width="20" height="20" fill="#f5a51f"/><rect x="408" y="295" width="20" height="20" fill="#f5a51f"/><rect x="428" y="295" width="40" height="20" fill="#f5a51f"/><rect x="-12" y="315" width="40" height="20" fill="#c8d440"/><rect x="28" y="315" width="20" height="20" fill="#c8d440"/><rect x="48" y="315" width="20" height="20" fill="#c8d440"/><rect x="68" y="315" width="20" height="20" fill="#c8d440"/><rect x="88" y="315" width="20" height="20" fill="#f5a51f"/><rect x="108" y="315" width="20" height="20" fill="#f5a51f"/><rect x="128" y="315" width="20" height="20" fill="#f39024"/><rect x="148" y="315" width="20" height="20" fill="#f39024"/><rect x="168" y="315" width="20" height="20" fill="#c8d440"/><rect x="188" y="315" width="20" height="20" fill="#c8d440"/><rect x="208" y="315" width="20" height="20" fill="#ec5028"/><rect x="228" y="315" width="20" height="20" fill="#f5a51f"/><rect x="248" y="315" width="20" height="20" fill="#f39024"/><rect x="268" y="315" width="20" height="20" fill="#ec5028"/><rect x="288" y="315" width="20" height="20" fill="#ec5028"/><rect x="308" y="315" width="20" height="20" fill="#f39024"/><rect x="328" y="315" width="20" height="20" fill="#e9402a"/><rect x="348" y="315" width="20" height="20" fill="#ec5028"/><rect x="368" y="315" width="20" height="20" fill="#f5a51f"/><rect x="388" y="315" width="20" height="20" fill="#f5a51f"/><rect x="408" y="315" width="20" height="20" fill="#f5a51f"/><rect x="428" y="315" width="40" height="20" fill="#f5a51f"/><rect x="-12" y="335" width="40" height="20" fill="#f5a51f"/><rect x="28" y="335" width="20" height="20" fill="#f5a51f"/><rect x="48" y="335" width="20" height="20" fill="#f5a51f"/><rect x="68" y="335" width="20" height="20" fill="#f5a51f"/><rect x="88" y="335" width="20" height="20" fill="#f5a51f"/><rect x="108" y="335" width="20" height="20" fill="#f5a51f"/><rect x="128" y="335" width="20" height="20" fill="#f7bc1a"/><rect x="148" y="335" width="20" height="20" fill="#f5a51f"/><rect x="168" y="335" width="20" height="20" fill="#c8d440"/><rect x="188" y="335" width="20" height="20" fill="#f7bc1a"/><rect x="208" y="335" width="20" height="20" fill="#e9402a"/><rect x="228" y="335" width="20" height="20" fill="#f5a51f"/><rect x="248" y="335" width="20" height="20" fill="#f39024"/><rect x="268" y="335" width="20" height="20" fill="#f39024"/><rect x="288" y="335" width="20" height="20" fill="#f39024"/><rect x="308" y="335" width="20" height="20" fill="#f5a51f"/><rect x="328" y="335" width="20" height="20" fill="#ec5028"/><rect x="348" y="335" width="20" height="20" fill="#f39024"/><rect x="368" y="335" width="20" height="20" fill="#f5a51f"/><rect x="388" y="335" width="20" height="20" fill="#f5a51f"/><rect x="408" y="335" width="20" height="20" fill="#f5a51f"/><rect x="428" y="335" width="40" height="20" fill="#f5a51f"/><rect x="-12" y="355" width="40" height="20" fill="#c8d440"/><rect x="28" y="355" width="20" height="20" fill="#c8d440"/><rect x="48" y="355" width="20" height="20" fill="#c8d440"/><rect x="68" y="355" width="20" height="20" fill="#c8d440"/><rect x="88" y="355" width="20" height="20" fill="#c8d440"/><rect x="108" y="355" width="20" height="20" fill="#c8d440"/><rect x="128" y="355" width="20" height="20" fill="#f7bc1a"/><rect x="148" y="355" width="20" height="20" fill="#f7bc1a"/><rect x="168" y="355" width="20" height="20" fill="#f7bc1a"/><rect x="188" y="355" width="20" height="20" fill="#c8d440"/><rect x="208" y="355" width="20" height="20" fill="#e62525"/><rect x="228" y="355" width="20" height="20" fill="#e9402a"/><rect x="248" y="355" width="20" height="20" fill="#e9402a"/><rect x="268" y="355" width="20" height="20" fill="#e9402a"/><rect x="288" y="355" width="20" height="20" fill="#f5a51f"/><rect x="308" y="355" width="20" height="20" fill="#f5a51f"/><rect x="328" y="355" width="20" height="20" fill="#f5a51f"/><rect x="348" y="355" width="20" height="20" fill="#f5a51f"/><rect x="368" y="355" width="20" height="20" fill="#f5a51f"/><rect x="388" y="355" width="20" height="20" fill="#f7bc1a"/><rect x="408" y="355" width="20" height="20" fill="#f7bc1a"/><rect x="428" y="355" width="40" height="20" fill="#f7bc1a"/><rect x="-12" y="375" width="40" height="20" fill="#86c49c"/><rect x="28" y="375" width="20" height="20" fill="#86c49c"/><rect x="48" y="375" width="20" height="20" fill="#86c49c"/><rect x="68" y="375" width="20" height="20" fill="#86c49c"/><rect x="88" y="375" width="20" height="20" fill="#86c49c"/><rect x="108" y="375" width="20" height="20" fill="#c8d440"/><rect x="128" y="375" width="20" height="20" fill="#c8d440"/><rect x="148" y="375" width="20" height="20" fill="#f7bc1a"/><rect x="168" y="375" width="20" height="20" fill="#86c49c"/><rect x="188" y="375" width="20" height="20" fill="#c8d440"/><rect x="208" y="375" width="20" height="20" fill="#e9402a"/><rect x="228" y="375" width="20" height="20" fill="#e9402a"/><rect x="248" y="375" width="20" height="20" fill="#e9402a"/><rect x="268" y="375" width="20" height="20" fill="#ec5028"/><rect x="288" y="375" width="20" height="20" fill="#f5a51f"/><rect x="308" y="375" width="20" height="20" fill="#f5a51f"/><rect x="328" y="375" width="20" height="20" fill="#ec5028"/><rect x="348" y="375" width="20" height="20" fill="#ec5028"/><rect x="368" y="375" width="20" height="20" fill="#f5a51f"/><rect x="388" y="375" width="20" height="20" fill="#f7bc1a"/><rect x="408" y="375" width="20" height="20" fill="#f7bc1a"/><rect x="428" y="375" width="40" height="20" fill="#f7bc1a"/><rect x="-12" y="395" width="40" height="20" fill="#f5d21e"/><rect x="28" y="395" width="20" height="20" fill="#f5d21e"/><rect x="48" y="395" width="20" height="20" fill="#f5d21e"/><rect x="68" y="395" width="20" height="20" fill="#f5d21e"/><rect x="88" y="395" width="20" height="20" fill="#f5d21e"/><rect x="108" y="395" width="20" height="20" fill="#f5d21e"/><rect x="128" y="395" width="20" height="20" fill="#c8d440"/><rect x="148" y="395" width="20" height="20" fill="#f7bc1a"/><rect x="168" y="395" width="20" height="20" fill="#c8d440"/><rect x="188" y="395" width="20" height="20" fill="#f7bc1a"/><rect x="208" y="395" width="20" height="20" fill="#e9402a"/><rect x="228" y="395" width="20" height="20" fill="#ec5028"/><rect x="248" y="395" width="20" height="20" fill="#ec5028"/><rect x="268" y="395" width="20" height="20" fill="#ec5028"/><rect x="288" y="395" width="20" height="20" fill="#ec5028"/><rect x="308" y="395" width="20" height="20" fill="#f39024"/><rect x="328" y="395" width="20" height="20" fill="#ec5028"/><rect x="348" y="395" width="20" height="20" fill="#ec5028"/><rect x="368" y="395" width="20" height="20" fill="#f5a51f"/><rect x="388" y="395" width="20" height="20" fill="#f7bc1a"/><rect x="408" y="395" width="20" height="20" fill="#f7bc1a"/><rect x="428" y="395" width="40" height="20" fill="#f7bc1a"/><rect x="-12" y="415" width="40" height="20" fill="#86c49c"/><rect x="28" y="415" width="20" height="20" fill="#86c49c"/><rect x="48" y="415" width="20" height="20" fill="#86c49c"/><rect x="68" y="415" width="20" height="20" fill="#86c49c"/><rect x="88" y="415" width="20" height="20" fill="#86c49c"/><rect x="108" y="415" width="20" height="20" fill="#86c49c"/><rect x="128" y="415" width="20" height="20" fill="#f7bc1a"/><rect x="148" y="415" width="20" height="20" fill="#c8d440"/><rect x="168" y="415" width="20" height="20" fill="#86c49c"/><rect x="188" y="415" width="20" height="20" fill="#f7bc1a"/><rect x="208" y="415" width="20" height="20" fill="#ec5028"/><rect x="228" y="415" width="20" height="20" fill="#ec5028"/><rect x="248" y="415" width="20" height="20" fill="#ec5028"/><rect x="268" y="415" width="20" height="20" fill="#ec5028"/><rect x="288" y="415" width="20" height="20" fill="#ec5028"/><rect x="308" y="415" width="20" height="20" fill="#ec5028"/><rect x="328" y="415" width="20" height="20" fill="#ec5028"/><rect x="348" y="415" width="20" height="20" fill="#f5a51f"/><rect x="368" y="415" width="20" height="20" fill="#f7bc1a"/><rect x="388" y="415" width="20" height="20" fill="#f7bc1a"/><rect x="408" y="415" width="20" height="20" fill="#f7bc1a"/><rect x="428" y="415" width="40" height="20" fill="#f7bc1a"/><rect x="-12" y="435" width="40" height="20" fill="#c8d440"/><rect x="28" y="435" width="20" height="20" fill="#c8d440"/><rect x="48" y="435" width="20" height="20" fill="#c8d440"/><rect x="68" y="435" width="20" height="20" fill="#c8d440"/><rect x="88" y="435" width="20" height="20" fill="#c8d440"/><rect x="108" y="435" width="20" height="20" fill="#c8d440"/><rect x="128" y="435" width="20" height="20" fill="#f5d21e"/><rect x="148" y="435" width="20" height="20" fill="#f5d21e"/><rect x="168" y="435" width="20" height="20" fill="#c8d440"/><rect x="188" y="435" width="20" height="20" fill="#f7bc1a"/><rect x="208" y="435" width="20" height="20" fill="#ef6428"/><rect x="228" y="435" width="20" height="20" fill="#ec5028"/><rect x="248" y="435" width="20" height="20" fill="#f39024"/><rect x="268" y="435" width="20" height="20" fill="#f5a51f"/><rect x="288" y="435" width="20" height="20" fill="#f5a51f"/><rect x="308" y="435" width="20" height="20" fill="#ec5028"/><rect x="328" y="435" width="20" height="20" fill="#f5a51f"/><rect x="348" y="435" width="20" height="20" fill="#f7bc1a"/><rect x="368" y="435" width="20" height="20" fill="#f7bc1a"/><rect x="388" y="435" width="20" height="20" fill="#f7bc1a"/><rect x="408" y="435" width="20" height="20" fill="#f7bc1a"/><rect x="428" y="435" width="40" height="20" fill="#f7bc1a"/><rect x="-12" y="455" width="40" height="20" fill="#f5d21e"/><rect x="28" y="455" width="20" height="20" fill="#f5d21e"/><rect x="48" y="455" width="20" height="20" fill="#f5d21e"/><rect x="68" y="455" width="20" height="20" fill="#f5d21e"/><rect x="88" y="455" width="20" height="20" fill="#f5d21e"/><rect x="108" y="455" width="20" height="20" fill="#f5d21e"/><rect x="128" y="455" width="20" height="20" fill="#f7bc1a"/><rect x="148" y="455" width="20" height="20" fill="#f39024"/><rect x="168" y="455" width="20" height="20" fill="#f7bc1a"/><rect x="188" y="455" width="20" height="20" fill="#f39024"/><rect x="208" y="455" width="20" height="20" fill="#ec5028"/><rect x="228" y="455" width="20" height="20" fill="#ec5028"/><rect x="248" y="455" width="20" height="20" fill="#f39024"/><rect x="268" y="455" width="20" height="20" fill="#f5a51f"/><rect x="288" y="455" width="20" height="20" fill="#f39024"/><rect x="308" y="455" width="20" height="20" fill="#f39024"/><rect x="328" y="455" width="20" height="20" fill="#f7bc1a"/><rect x="348" y="455" width="20" height="20" fill="#f7bc1a"/><rect x="368" y="455" width="20" height="20" fill="#f7bc1a"/><rect x="388" y="455" width="20" height="20" fill="#f7bc1a"/><rect x="408" y="455" width="20" height="20" fill="#f7bc1a"/><rect x="428" y="455" width="40" height="20" fill="#f7bc1a"/><rect x="-12" y="475" width="40" height="20" fill="#f39024"/><rect x="28" y="475" width="20" height="20" fill="#f39024"/><rect x="48" y="475" width="20" height="20" fill="#f39024"/><rect x="68" y="475" width="20" height="20" fill="#f39024"/><rect x="88" y="475" width="20" height="20" fill="#f39024"/><rect x="108" y="475" width="20" height="20" fill="#f39024"/><rect x="128" y="475" width="20" height="20" fill="#f39024"/><rect x="148" y="475" width="20" height="20" fill="#ef6428"/><rect x="168" y="475" width="20" height="20" fill="#f39024"/><rect x="188" y="475" width="20" height="20" fill="#ef6428"/><rect x="208" y="475" width="20" height="20" fill="#ec5028"/><rect x="228" y="475" width="20" height="20" fill="#ec5028"/><rect x="248" y="475" width="20" height="20" fill="#ec5028"/><rect x="268" y="475" width="20" height="20" fill="#ec5028"/><rect x="288" y="475" width="20" height="20" fill="#ec5028"/><rect x="308" y="475" width="20" height="20" fill="#f5a51f"/><rect x="328" y="475" width="20" height="20" fill="#f7bc1a"/><rect x="348" y="475" width="20" height="20" fill="#f7bc1a"/><rect x="368" y="475" width="20" height="20" fill="#f7bc1a"/><rect x="388" y="475" width="20" height="20" fill="#f7bc1a"/><rect x="408" y="475" width="20" height="20" fill="#f7bc1a"/><rect x="428" y="475" width="40" height="20" fill="#f7bc1a"/><rect x="-12" y="495" width="40" height="40" fill="#ef6428"/><rect x="28" y="495" width="20" height="40" fill="#ef6428"/><rect x="48" y="495" width="20" height="40" fill="#ef6428"/><rect x="68" y="495" width="20" height="40" fill="#ef6428"/><rect x="88" y="495" width="20" height="40" fill="#ef6428"/><rect x="108" y="495" width="20" height="40" fill="#ef6428"/><rect x="128" y="495" width="20" height="40" fill="#ef6428"/><rect x="148" y="495" width="20" height="40" fill="#ef6428"/><rect x="168" y="495" width="20" height="40" fill="#ef6428"/><rect x="188" y="495" width="20" height="40" fill="#ec5028"/><rect x="208" y="495" width="20" height="40" fill="#ec5028"/><rect x="228" y="495" width="20" height="40" fill="#ec5028"/><rect x="248" y="495" width="20" height="40" fill="#ec5028"/><rect x="268" y="495" width="20" height="40" fill="#ec5028"/><rect x="288" y="495" width="20" height="40" fill="#ec5028"/><rect x="308" y="495" width="20" height="40" fill="#f5a51f"/><rect x="328" y="495" width="20" height="40" fill="#f7bc1a"/><rect x="348" y="495" width="20" height="40" fill="#f7bc1a"/><rect x="368" y="495" width="20" height="40" fill="#f7bc1a"/><rect x="388" y="495" width="20" height="40" fill="#f7bc1a"/><rect x="408" y="495" width="20" height="40" fill="#f7bc1a"/><rect x="428" y="495" width="40" height="40" fill="#f7bc1a"/></g></g><g filter="url(#bl2)"><polygon points="212,244 222,246 236,262 250,280 268,298 292,312 318,324 322,336 296,344 266,356 258,342 252,314 240,292 226,270 214,256" fill="#e0d438" opacity="0.8" filter="url(#rough)"/></g><polygon points="212,244 222,246 236,262 250,280 268,298 292,312 318,324 322,336 296,344 266,356 258,342 252,314 240,292 226,270 214,256" filter="url(#nG)"/><polygon points="212,244 222,246 236,262 250,280 268,298 292,312 318,324 322,336 296,344 266,356 258,342 252,314 240,292 226,270 214,256" filter="url(#nTs)"/><polygon points="8,61 11,60 13,61 15,62 16,65 17,68 21,68 26,68 32,69 36,70 41,72 49,74 56,78 60,79 68,83 74,80 82,77 90,74 97,75 103,77 106,80 114,83 121,82 130,82 136,77 140,72 144,66 147,57 151,48 154,42 156,36 160,30 0,30 0,61" fill="url(#gmed)"/><polygon points="111,101 114,105 120,119 126,127 131,131 134,132 137,129 141,110 144,107 145,109 140,127 141,129 146,131 151,139 158,150 165,161 172,174 177,187 182,190 190,197 195,207 197,219 196,226 200,236 205,243 210,250 219,257 226,265 232,279 238,288 242,293 250,309 249,323 252,336 255,340 257,347 258,353 260,360 262,364 267,365 273,364 279,363 283,362 288,360 303,353 322,348 336,340 348,331 361,326 377,320 386,314 388,306 398,299 412,293 424,292 429,288 430,283 435,279 443,276 450,276 450,510 321,510 321,499 332,483 342,470 349,453 356,440 357,434 363,426 366,420 370,412 374,392 376,380 375,373 368,373 358,380 346,384 329,386 312,392 298,396 290,398 281,399 274,398 269,394 264,389 260,383 256,381 250,381 247,382 248,380 252,378 256,375 259,374 259,371 256,366 252,362 245,356 240,350 235,345 227,338 217,330 209,326 207,319 200,311 194,297 188,286 181,277 174,272 172,262 170,246 172,236 168,234 166,221 155,210 150,200 149,191 143,177 137,163 130,146 126,133 124,129 119,120 114,112 109,104 111,101" fill="url(#gsea)"/><polygon points="316,110 320,100 325,100 331,93 335,94 338,98 346,96 351,103 356,109 360,119 364,126 370,129 378,132 386,138 397,144 406,146 412,148 418,146 424,142 428,139 435,149 432,152 430,156 428,160 420,168 414,175 407,184 403,184 390,186 378,189 371,185 367,181 371,177 371,166 368,158 364,159 362,166 361,177 359,170 353,166 349,158 348,150 341,142 333,136 327,127 320,115 316,110" fill="url(#ggulf)"/><g filter="url(#bl4)"><ellipse cx="162" cy="186" rx="8" ry="6" fill="#f2d024"/><ellipse cx="238" cy="318" rx="11" ry="7" transform="rotate(30 238 318)" fill="#f5d020"/></g><polygon points="168,250 192,252 204,272 196,286 176,284" filter="url(#nT)"/><g filter="url(#bl2)"><ellipse cx="336" cy="146" rx="4.5" ry="9" transform="rotate(-35 336 146)" fill="#3a62b4" stroke="#5cc0d8" stroke-width="1.5"/><ellipse cx="316" cy="391" rx="5" ry="3.2" fill="#3458b0" stroke="#6cc4b8" stroke-width="1.5"/><ellipse cx="333" cy="389" rx="7.5" ry="3.5" fill="#3458b0" stroke="#6cc4b8" stroke-width="1.5"/><ellipse cx="165" cy="366" rx="4" ry="1.8" fill="#2c54b4"/><ellipse cx="171" cy="382" rx="3" ry="1.4" fill="#2c54b4"/><ellipse cx="182" cy="418" rx="4.5" ry="1.8" fill="#2c54b4"/><ellipse cx="190" cy="330" rx="2.5" ry="1.3" fill="#2c54b4"/><ellipse cx="233" cy="263" rx="1.8" ry="1.5" fill="#2c54b4"/><ellipse cx="361" cy="85" rx="3" ry="2" fill="#48a8e0"/><ellipse cx="375" cy="100" rx="3" ry="2" fill="#48a8e0"/><ellipse cx="405" cy="117" rx="4" ry="2" fill="#48a8e0"/><ellipse cx="368" cy="90" rx="2" ry="1.5" fill="#48a8e0"/><ellipse cx="352" cy="78" rx="2" ry="1.3" fill="#48a8e0"/></g></g>
<g id="coast" fill="none" stroke="#151515" stroke-width="1.15" stroke-linejoin="round"><path d="M8.4,60.6 L10.8,60.0 L13.4,60.6 L15.4,61.6 L15.9,65.2 L17.4,67.6 L21.0,68.3 L25.7,67.6 L32.0,68.6 L36.0,70.4 L41.1,71.9 L48.8,74.4 L55.5,78.2 L59.6,79.2 L68.0,82.8 L74.0,80.4 L82.4,76.8 L89.6,74.4 L96.7,74.9 L102.7,76.8 L106.3,80.4 L113.5,82.8 L120.7,82.0 L130.3,81.6 L136.0,77.0 L140.0,72.0 L144.0,66.0 L146.9,57.2 L150.8,48.4 L154.2,41.6 L156.2,35.7"/><path d="M111.0,101.0 L109.4,104.3 L113.7,112.0 L118.8,120.5 L124.0,129.0 L125.7,133.4 L130.0,146.0 L136.8,163.0 L142.8,177.0 L148.8,190.8 L150.3,200.3 L155.4,210.5 L165.7,220.8 L168.3,234.5 L171.7,236.0 L170.0,246.5 L171.7,262.0 L174.2,272.0 L181.0,277.0 L188.2,286.4 L194.4,296.7 L200.5,311.0 L206.7,319.3 L208.8,326.5 L217.0,329.6 L227.3,337.8 L235.1,344.6 L240.3,350.3 L245.4,356.4 L251.6,361.6 L255.7,365.7 L259.3,370.8 L258.8,373.9 L255.7,374.9 L252.1,377.5 L248.5,379.6 L247.0,381.6 L250.5,380.6 L255.7,380.6 L259.8,383.2 L263.9,389.3 L269.0,394.5 L274.2,397.5 L281.4,398.6 L290.0,398.0 L298.0,396.0 L312.3,392.3 L329.0,386.3 L346.0,384.0 L358.0,380.3 L367.5,373.0 L374.7,372.7 L375.9,380.3 L373.5,392.3 L369.9,411.5 L365.7,420.0 L362.7,426.0 L357.4,434.0 L355.5,440.3 L349.0,453.4 L341.6,470.0 L332.4,483.0 L321.2,499.0"/><path d="M111.0,101.0 L114.5,105.0 L120.5,118.8 L126.5,127.4 L130.8,130.8 L134.2,132.5 L136.8,129.0 L141.0,110.3 L143.7,106.8 L144.9,108.6 L140.2,127.4 L141.0,129.0 L146.2,130.8 L151.4,139.4 L158.2,149.7 L165.0,160.8 L172.0,173.6 L177.0,187.3 L182.0,190.0 L189.7,196.8 L194.8,207.0 L197.4,219.0 L196.5,226.0 L200.0,236.0 L205.0,243.0 L210.2,250.0 L218.8,256.8 L225.6,265.3 L232.5,279.0 L237.6,287.6 L241.6,292.6 L249.9,309.0 L248.8,323.4 L252.0,335.7 L254.7,340.0 L256.7,347.2 L257.7,353.4 L259.8,360.5 L261.9,363.6 L267.0,364.7 L273.2,364.1 L279.3,362.6 L283.4,361.6 L287.5,359.5 L302.7,352.8 L322.0,348.0 L336.3,339.6 L348.2,331.2 L360.6,326.0 L377.0,320.0 L386.3,313.7 L388.3,305.5 L397.6,299.3 L412.0,293.2 L424.3,292.0 L429.4,288.0 L430.5,283.0 L434.6,278.8 L442.8,276.3"/><path d="M316.4,109.8 L319.5,100.5 L324.7,99.5 L330.8,93.4 L335.0,94.4 L338.0,97.5 L346.2,96.4 L351.4,102.6 L355.5,108.8 L359.6,119.0 L363.7,126.2 L369.9,129.3 L378.0,132.4 L386.3,137.5 L396.6,143.7 L406.0,145.8 L412.0,148.2 L418.0,145.8 L424.0,142.2 L427.6,139.2 L432.4,136.8 L437.2,136.2 L440.8,137.4 L442.8,139.8"/><path d="M316.4,109.8 L320.5,114.9 L326.7,127.3 L332.9,135.5 L341.1,141.6 L348.3,149.9 L349.3,158.0 L353.4,166.3 L358.6,170.4 L360.6,176.6 L361.6,166.3 L363.7,159.0 L367.8,158.0 L370.9,166.3 L370.9,176.6 L366.8,180.7 L370.9,184.8 L378.0,188.9 L390.4,185.8 L402.7,183.8 L407.2,183.5 L414.4,175.2 L420.4,168.0 L427.6,159.6 L430.0,156.0 L432.4,151.8 L435.4,149.4 L436.0,153.6 L434.8,159.6 L436.0,166.8 L439.6,172.8 L442.8,178.8"/><path d="M406.8,361.0 L410.0,358.6 L416.0,358.2 L420.0,359.6 L424.3,358.6 L421.0,362.0 L416.0,364.0 L409.0,363.6 Z"/></g>
<g id="grat" fill="none" stroke="#3a3a3a" stroke-width="1.4" stroke-dasharray="1.5 3.5"><path d="M40.4,63.6 L55.7,64.6 L71.1,65.6 L86.5,66.5 L101.9,67.4 L117.3,68.1 L132.7,68.7 L148.1,69.3 L163.5,69.8 L178.9,70.1 L194.3,70.4 L209.7,70.6 L225.1,70.8 L240.5,70.8 L255.9,70.7 L271.3,70.6 L286.7,70.4 L302.1,70.1 L317.5,69.7 L332.9,69.2 L348.3,68.6 L363.7,67.9 L379.1,67.2 L394.5,66.3 L409.8,65.4"/><path d="M35.3,124.1 L51.1,125.2 L66.9,126.2 L82.7,127.1 L98.6,128.0 L114.4,128.7 L130.2,129.4 L146.0,130.0 L161.8,130.4 L177.6,130.8 L193.4,131.1 L209.2,131.3 L225.0,131.5 L240.8,131.5 L256.7,131.4 L272.5,131.3 L288.3,131.1 L304.1,130.7 L319.9,130.3 L335.7,129.8 L351.5,129.2 L367.3,128.5 L383.1,127.7 L399.0,126.9 L414.8,125.9"/><path d="M30.3,184.6 L46.5,185.7 L62.7,186.8 L79.0,187.7 L95.2,188.6 L111.4,189.4 L127.6,190.0 L143.9,190.6 L160.1,191.1 L176.3,191.5 L192.5,191.8 L208.8,192.0 L225.0,192.2 L241.2,192.2 L257.4,192.1 L273.7,192.0 L289.9,191.7 L306.1,191.4 L322.3,191.0 L338.6,190.4 L354.8,189.8 L371.0,189.1 L387.2,188.3 L403.5,187.4 L419.7,186.4"/><path d="M25.2,245.0 L41.9,246.2 L58.5,247.3 L75.2,248.3 L91.8,249.2 L108.4,250.0 L125.1,250.7 L141.7,251.3 L158.4,251.8 L175.0,252.2 L191.6,252.5 L208.3,252.7 L224.9,252.9 L241.6,252.9 L258.2,252.8 L274.8,252.7 L291.5,252.4 L308.1,252.1 L324.8,251.6 L341.4,251.1 L358.0,250.4 L374.7,249.7 L391.3,248.9 L408.0,248.0 L424.6,246.9"/><path d="M20.2,305.5 L37.3,306.8 L54.3,307.9 L71.4,308.9 L88.4,309.8 L105.5,310.6 L122.5,311.3 L139.6,311.9 L156.6,312.5 L173.7,312.9 L190.7,313.2 L207.8,313.4 L224.9,313.6 L241.9,313.6 L259.0,313.5 L276.0,313.4 L293.1,313.1 L310.1,312.7 L327.2,312.3 L344.2,311.7 L361.3,311.1 L378.3,310.3 L395.4,309.4 L412.5,308.5 L429.5,307.4"/><path d="M15.2,366.0 L32.6,367.3 L50.1,368.4 L67.6,369.5 L85.0,370.4 L102.5,371.2 L120.0,372.0 L137.4,372.6 L154.9,373.1 L172.4,373.6 L189.9,373.9 L207.3,374.1 L224.8,374.3 L242.3,374.3 L259.7,374.2 L277.2,374.1 L294.7,373.8 L312.1,373.4 L329.6,372.9 L347.1,372.4 L364.6,371.7 L382.0,370.9 L399.5,370.0 L417.0,369.0 L434.4,368.0"/><path d="M10.1,426.5 L28.0,427.8 L45.9,429.0 L63.8,430.0 L81.7,431.0 L99.5,431.9 L117.4,432.6 L135.3,433.3 L153.2,433.8 L171.1,434.3 L189.0,434.6 L206.9,434.8 L224.7,435.0 L242.6,435.0 L260.5,434.9 L278.4,434.7 L296.3,434.5 L314.2,434.1 L332.0,433.6 L349.9,433.0 L367.8,432.3 L385.7,431.5 L403.6,430.6 L421.5,429.6 L439.3,428.5"/><path d="M8.5,487.3 L26.6,488.5 L44.7,489.7 L62.8,490.8 L80.9,491.7 L99.0,492.6 L117.1,493.4 L135.2,494.0 L153.3,494.5 L171.4,495.0 L189.5,495.3 L207.6,495.5 L225.7,495.7 L243.7,495.7 L261.8,495.6 L279.9,495.4 L298.0,495.1 L316.1,494.7 L334.2,494.2 L352.3,493.6 L370.4,492.9 L388.5,492.1 L406.6,491.2 L424.7,490.2 L442.8,489.1"/><path d="M56.5,35.5 L21.5,488.2"/><path d="M109.0,35.5 L83.5,491.9"/><path d="M160.5,35.5 L146.0,494.3"/><path d="M212.4,35.5 L207.6,495.5"/><path d="M264.3,35.5 L270.0,495.5"/><path d="M317.0,35.5 L331.6,494.3"/><path d="M369.0,35.5 L394.2,491.8"/></g>
<pattern id="pc" patternUnits="userSpaceOnUse" width="15.0" height="6.9" patternTransform="rotate(-10.3)"><ellipse cx="0" cy="0" rx="2.6" ry="1.9" fill="#fff"/><ellipse cx="0" cy="6.9" rx="2.6" ry="1.9" fill="#fff"/><ellipse cx="15.0" cy="0" rx="2.6" ry="1.9" fill="#fff"/><ellipse cx="15.0" cy="6.9" rx="2.6" ry="1.9" fill="#fff"/><ellipse cx="7.5" cy="3.45" rx="1.8" ry="1.3" fill="#fff"/><circle cx="3.75" cy="1.73" r="0.7" fill="#fff"/><circle cx="11.25" cy="1.73" r="0.7" fill="#fff"/><circle cx="3.75" cy="5.18" r="0.7" fill="#fff"/><circle cx="11.25" cy="5.18" r="0.7" fill="#fff"/><circle cx="7.50" cy="0.00" r="0.5" fill="#fff"/><circle cx="7.50" cy="6.90" r="0.5" fill="#fff"/><circle cx="0.00" cy="3.45" r="0.5" fill="#fff"/><circle cx="15.00" cy="3.45" r="0.5" fill="#fff"/></pattern><pattern id="pstr" patternUnits="userSpaceOnUse" width="15" height="6.9" patternTransform="rotate(-10.3)"><rect x="2.5" y="0" width="5" height="6.9" fill="#dc2424" opacity="0.2"/></pattern><pattern id="pm" patternUnits="userSpaceOnUse" width="12.0" height="6.9" patternTransform="rotate(-10.3)"><ellipse cx="0" cy="0" rx="2.2" ry="1.6" fill="#fff"/><ellipse cx="0" cy="6.9" rx="2.2" ry="1.6" fill="#fff"/><ellipse cx="12.0" cy="0" rx="2.2" ry="1.6" fill="#fff"/><ellipse cx="12.0" cy="6.9" rx="2.2" ry="1.6" fill="#fff"/><circle cx="0.00" cy="2.30" r="0.55" fill="#fff"/><circle cx="0.00" cy="4.60" r="0.55" fill="#fff"/><circle cx="3.00" cy="0.00" r="0.55" fill="#fff"/><circle cx="3.00" cy="2.30" r="0.55" fill="#fff"/><circle cx="3.00" cy="4.60" r="0.55" fill="#fff"/><circle cx="6.00" cy="0.00" r="0.55" fill="#fff"/><circle cx="6.00" cy="2.30" r="0.55" fill="#fff"/><circle cx="6.00" cy="4.60" r="0.55" fill="#fff"/><circle cx="9.00" cy="0.00" r="0.55" fill="#fff"/><circle cx="9.00" cy="2.30" r="0.55" fill="#fff"/><circle cx="9.00" cy="4.60" r="0.55" fill="#fff"/></pattern><pattern id="pf" patternUnits="userSpaceOnUse" width="2.8" height="8.0" patternTransform="rotate(-10.3)"><rect x="0" y="0" width="2.8" height="0.8" fill="#fff" opacity="0.75"/><circle cx="1.4" cy="2.7" r="0.5" fill="#fff" opacity="0.7"/><circle cx="1.4" cy="5.4" r="0.5" fill="#fff" opacity="0.7"/><rect x="0" y="0" width="0.45" height="8.0" fill="#fff" opacity="0.4"/></pattern>
<g id="swpat"><polygon points="36.1,78.3 128.2,62.1 228.5,494.9 137.3,511.7" fill="url(#pstr)"/><polygon points="266.5,37.9 343.2,24.4 441.1,455.6 365.2,469.6" fill="url(#pstr)"/><polygon points="36.1,78.3 91.4,68.6 192.0,501.6 137.3,511.7" fill="url(#pc)"/><polygon points="91.4,68.6 151.6,58.0 251.5,490.6 192.0,501.6" fill="url(#pm)"/><polygon points="151.6,58.0 240.7,42.4 339.7,474.3 251.5,490.6" fill="url(#pf)"/><polygon points="240.7,42.4 300.2,31.9 398.6,463.5 339.7,474.3" fill="url(#pm)"/><polygon points="300.2,31.9 343.2,24.4 441.1,455.6 398.6,463.5" fill="url(#pc)"/></g>
<linearGradient id="cbar" x1="0" y1="0" x2="0" y2="1"><stop offset="0.0000" stop-color="#801a1e"/><stop offset="0.0517" stop-color="#a01c22"/><stop offset="0.0948" stop-color="#d21f26"/><stop offset="0.1207" stop-color="#e81f27"/><stop offset="0.1422" stop-color="#ec2427"/><stop offset="0.1703" stop-color="#ec3a27"/><stop offset="0.1918" stop-color="#ee5426"/><stop offset="0.2112" stop-color="#f06a28"/><stop offset="0.2500" stop-color="#f4882a"/><stop offset="0.2888" stop-color="#f7a020"/><stop offset="0.3211" stop-color="#f9c015"/><stop offset="0.3470" stop-color="#fad816"/><stop offset="0.3599" stop-color="#f4e61c"/><stop offset="0.3793" stop-color="#e2e228"/><stop offset="0.4073" stop-color="#cedc32"/><stop offset="0.4504" stop-color="#b2d24a"/><stop offset="0.4935" stop-color="#94c870"/><stop offset="0.5366" stop-color="#7cc496"/><stop offset="0.5625" stop-color="#74c4ae"/><stop offset="0.5905" stop-color="#6cc4c4"/><stop offset="0.6164" stop-color="#60c4d8"/><stop offset="0.6444" stop-color="#42bce8"/><stop offset="0.6703" stop-color="#2cb8ec"/><stop offset="0.6983" stop-color="#3a98d0"/><stop offset="0.7306" stop-color="#3c7cbc"/><stop offset="0.7737" stop-color="#3c64b0"/><stop offset="0.8276" stop-color="#3a54a6"/><stop offset="0.8707" stop-color="#3450a0"/><stop offset="0.9353" stop-color="#2c3c94"/><stop offset="0.9784" stop-color="#28308a"/><stop offset="1.0000" stop-color="#282a80"/></linearGradient>
<linearGradient id="gmed" gradientUnits="userSpaceOnUse" x1="0" y1="60" x2="160" y2="40"><stop offset="0" stop-color="#f39a1f"/><stop offset="1" stop-color="#f5a81e"/></linearGradient>
<linearGradient id="gsea" gradientUnits="userSpaceOnUse" x1="200" y1="300" x2="445" y2="380"><stop offset="0" stop-color="#f49c20"/><stop offset="0.55" stop-color="#f5a21e"/><stop offset="0.8" stop-color="#f7b21a"/><stop offset="1" stop-color="#f8c018"/></linearGradient>
<linearGradient id="ggulf" gradientUnits="userSpaceOnUse" x1="320" y1="110" x2="420" y2="180"><stop offset="0" stop-color="#f4a020"/><stop offset="1" stop-color="#f8bc18"/></linearGradient>
</defs>
<rect width="1024" height="584" fill="#fff"/>
<rect x="8.5" y="35.5" width="434.3" height="463.5" fill="none" stroke="#6e6e6e" stroke-width="1.2"/>
<g clip-path="url(#cimg)"><use href="#colors"/></g>
<g clip-path="url(#cfr)">
<use href="#grat"/><use href="#coast"/>
</g>
<g transform="translate(441.3,1.0)">
<g clip-path="url(#cfr)">
<g clip-path="url(#csw)"><use href="#colorsR"/><use href="#swpat"/></g>
<use href="#grat"/><use href="#coast"/>
</g>
<rect x="8.5" y="35.5" width="434.3" height="463.5" fill="none" stroke="#6e6e6e" stroke-width="1.2"/>
</g>
<rect x="987.5" y="36" width="24" height="464" fill="url(#cbar)"/>
<path d="M987.6,27 V509.5 M1011.6,27 V509.5 M987.6,36 H1011.6 M987.6,500 H1011.6" stroke="#000" stroke-width="1.5" fill="none"/>
<path d="M988,79.5 h4 M988,152.0 h4 M988,224.5 h4 M988,297.0 h4 M988,369.5 h4 M988,442.0 h4 " stroke="#000" stroke-width="1.3"/>
<g font-weight="bold" fill="#000">
<text x="228.7" y="24.6" font-size="21.3" text-anchor="middle" transform="translate(0,24.6) scale(1,1.07) translate(0,-24.6)">VIIRS Image at I5 band</text>
<text x="669.3" y="25.6" font-size="21.5" text-anchor="middle" transform="translate(0,25.6) scale(1,1.07) translate(0,-25.6)">CrIS-simulated I5</text>
<text x="980.5" y="162.3" font-size="23" text-anchor="end">300</text>
<text x="980.5" y="307.3" font-size="23" text-anchor="end">250</text>
<text x="980.5" y="452.3" font-size="23" text-anchor="end">200</text>
<text transform="translate(926.3,269.4) rotate(-90)" font-size="23" text-anchor="middle">BT [K]</text>
</g>
<text x="237.2" y="572" font-size="29" text-anchor="middle"><tspan>(</tspan><tspan font-weight="bold">a</tspan><tspan>)</tspan></text>
<text x="760" y="572.5" font-size="29" text-anchor="middle"><tspan>(</tspan><tspan font-weight="bold">b</tspan><tspan>)</tspan></text>

</svg></body></html>
